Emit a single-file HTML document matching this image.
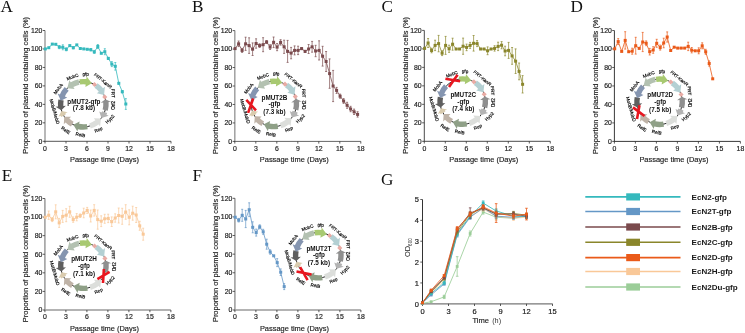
<!DOCTYPE html><html><head><meta charset="utf-8"><style>html,body{margin:0;padding:0;background:#fff;}svg{display:block;will-change:transform;}</style></head><body>
<svg width="745" height="333" viewBox="0 0 745 333">
<rect width="745" height="333" fill="#fff"/>
<text x="0.6" y="12.4" font-size="17.2" text-anchor="start" font-weight="normal" fill="#111" font-family='"Liberation Serif", serif' >A</text>
<line x1="45" y1="30.5" x2="45" y2="141.3" stroke="#9a9a9a" stroke-width="1.4"/>
<line x1="44.4" y1="141.3" x2="171" y2="141.3" stroke="#555" stroke-width="1.0"/>
<line x1="42.8" y1="141.3" x2="45" y2="141.3" stroke="#333" stroke-width="0.8"/>
<text x="42.4" y="143.7" font-size="6.9" text-anchor="end" font-weight="normal" fill="#222" font-family='"Liberation Sans", sans-serif'  stroke="#222" stroke-width="0.18">0</text>
<line x1="42.8" y1="122.83" x2="45" y2="122.83" stroke="#333" stroke-width="0.8"/>
<text x="42.4" y="125.23" font-size="6.9" text-anchor="end" font-weight="normal" fill="#222" font-family='"Liberation Sans", sans-serif'  stroke="#222" stroke-width="0.18">20</text>
<line x1="42.8" y1="104.37" x2="45" y2="104.37" stroke="#333" stroke-width="0.8"/>
<text x="42.4" y="106.77" font-size="6.9" text-anchor="end" font-weight="normal" fill="#222" font-family='"Liberation Sans", sans-serif'  stroke="#222" stroke-width="0.18">40</text>
<line x1="42.8" y1="85.9" x2="45" y2="85.9" stroke="#333" stroke-width="0.8"/>
<text x="42.4" y="88.3" font-size="6.9" text-anchor="end" font-weight="normal" fill="#222" font-family='"Liberation Sans", sans-serif'  stroke="#222" stroke-width="0.18">60</text>
<line x1="42.8" y1="67.43" x2="45" y2="67.43" stroke="#333" stroke-width="0.8"/>
<text x="42.4" y="69.83" font-size="6.9" text-anchor="end" font-weight="normal" fill="#222" font-family='"Liberation Sans", sans-serif'  stroke="#222" stroke-width="0.18">80</text>
<line x1="42.8" y1="48.97" x2="45" y2="48.97" stroke="#333" stroke-width="0.8"/>
<text x="42.4" y="51.37" font-size="6.9" text-anchor="end" font-weight="normal" fill="#222" font-family='"Liberation Sans", sans-serif'  stroke="#222" stroke-width="0.18">100</text>
<line x1="42.8" y1="30.5" x2="45" y2="30.5" stroke="#333" stroke-width="0.8"/>
<text x="42.4" y="32.9" font-size="6.9" text-anchor="end" font-weight="normal" fill="#222" font-family='"Liberation Sans", sans-serif'  stroke="#222" stroke-width="0.18">120</text>
<line x1="45" y1="141.3" x2="45" y2="143.5" stroke="#333" stroke-width="0.8"/>
<text x="45" y="150.7" font-size="6.9" text-anchor="middle" font-weight="normal" fill="#222" font-family='"Liberation Sans", sans-serif'  stroke="#222" stroke-width="0.18">0</text>
<line x1="66" y1="141.3" x2="66" y2="143.5" stroke="#333" stroke-width="0.8"/>
<text x="66" y="150.7" font-size="6.9" text-anchor="middle" font-weight="normal" fill="#222" font-family='"Liberation Sans", sans-serif'  stroke="#222" stroke-width="0.18">3</text>
<line x1="87" y1="141.3" x2="87" y2="143.5" stroke="#333" stroke-width="0.8"/>
<text x="87" y="150.7" font-size="6.9" text-anchor="middle" font-weight="normal" fill="#222" font-family='"Liberation Sans", sans-serif'  stroke="#222" stroke-width="0.18">6</text>
<line x1="108" y1="141.3" x2="108" y2="143.5" stroke="#333" stroke-width="0.8"/>
<text x="108" y="150.7" font-size="6.9" text-anchor="middle" font-weight="normal" fill="#222" font-family='"Liberation Sans", sans-serif'  stroke="#222" stroke-width="0.18">9</text>
<line x1="129" y1="141.3" x2="129" y2="143.5" stroke="#333" stroke-width="0.8"/>
<text x="129" y="150.7" font-size="6.9" text-anchor="middle" font-weight="normal" fill="#222" font-family='"Liberation Sans", sans-serif'  stroke="#222" stroke-width="0.18">12</text>
<line x1="150" y1="141.3" x2="150" y2="143.5" stroke="#333" stroke-width="0.8"/>
<text x="150" y="150.7" font-size="6.9" text-anchor="middle" font-weight="normal" fill="#222" font-family='"Liberation Sans", sans-serif'  stroke="#222" stroke-width="0.18">15</text>
<line x1="171" y1="141.3" x2="171" y2="143.5" stroke="#333" stroke-width="0.8"/>
<text x="171" y="150.7" font-size="6.9" text-anchor="middle" font-weight="normal" fill="#222" font-family='"Liberation Sans", sans-serif'  stroke="#222" stroke-width="0.18">18</text>
<text x="104.5" y="162.1" font-size="7.45" text-anchor="middle" font-weight="normal" fill="#1a1a1a" font-family='"Liberation Sans", sans-serif'  stroke="#1a1a1a" stroke-width="0.15">Passage time (Days)</text>
<text x="28.3" y="85.4" font-size="7.45" text-anchor="middle" fill="#1a1a1a" stroke="#1a1a1a" stroke-width="0.15" font-family='"Liberation Sans", sans-serif' transform="rotate(-90 28.3 85.4)">Proportion of plasmid containing cells (%)</text>
<g>
<circle cx="83.3" cy="104.3" r="22.7" fill="none" stroke="#111" stroke-width="0.9"/>
<path d="M78.45 79.37 A25.4 25.4 0 0 0 70.66 82.27 L69.41 80.1 L67.25 88.25 L74.59 89.12 L73.34 86.95 A20 20 0 0 1 79.48 84.67 Z" fill="#b3c1b1"/>
<path d="M79.33 79.21 A25.4 25.4 0 0 1 86.33 79.08 L86.63 76.6 L91.8 83.25 L85.39 86.93 L85.69 84.44 A20 20 0 0 0 80.17 84.55 Z" fill="#a8c971"/>
<path d="M97.5 83.24 A25.4 25.4 0 0 1 103 88.27 L104.94 86.69 L104.04 95.07 L96.87 93.25 L98.81 91.67 A20 20 0 0 0 94.48 87.72 Z" fill="#b4d0d3"/>
<path d="M107.83 110.87 A25.4 25.4 0 0 0 108.61 102.12 L111.1 101.91 L105.42 99.19 L100.74 102.8 L103.23 102.58 A20 20 0 0 1 102.62 109.48 Z" fill="#8f8f8f"/>
<path d="M107.17 112.99 A25.4 25.4 0 0 1 106.44 114.78 L108.71 115.82 L101.43 117.96 L99.24 111.52 L101.52 112.56 A20 20 0 0 0 102.09 111.14 Z" fill="#b3b3b3"/>
<path d="M90.73 128.59 A25.4 25.4 0 0 0 98.63 124.55 L100.14 126.55 L100.94 118.59 L93.86 118.25 L95.37 120.25 A20 20 0 0 1 89.15 123.43 Z" fill="#dcdedb"/>
<path d="M87.71 129.31 A25.4 25.4 0 0 1 77.97 129.13 L77.44 131.58 L73.35 124.7 L79.63 121.41 L79.1 123.85 A20 20 0 0 0 86.77 124 Z" fill="#8fa087"/>
<path d="M70.99 126.52 A25.4 25.4 0 0 1 65.53 122.45 L63.79 124.24 L64.26 116.66 L71.06 116.81 L69.31 118.59 A20 20 0 0 0 73.6 121.79 Z" fill="#bfb3a7"/>
<path d="M61.3 117 A25.4 25.4 0 0 1 60.62 115.73 L58.39 116.86 L61.59 110.94 L67.67 112.18 L65.44 113.3 A20 20 0 0 0 65.98 114.3 Z" fill="#d9cbae"/>
<path d="M58.37 99.45 A25.4 25.4 0 0 0 57.99 106.47 L55.5 106.68 L61.37 110.18 L65.86 105.8 L63.37 106.01 A20 20 0 0 1 63.67 100.48 Z" fill="#5f5f5f"/>
<path d="M64.72 86.98 A25.4 25.4 0 0 0 59.9 94.42 L57.6 93.45 L60.88 100.75 L67.18 97.5 L64.87 96.52 A20 20 0 0 1 68.67 90.66 Z" fill="#8595b0"/>
<rect x="92.68" y="82.74" width="3.6" height="3.6" fill="#e9aba4" transform="rotate(45 94.48 84.54)"/>
<rect x="102.99" y="95.18" width="3.6" height="3.6" fill="#e9aba4" transform="rotate(45 104.79 96.98)"/>
<text x="58.12" y="88.93" font-size="4.6" text-anchor="middle" fill="#000" stroke="#000" stroke-width="0.15" font-family='"Liberation Sans", sans-serif' transform="rotate(-52 58.12 88.93)" dy="1.6">MobA</text>
<text x="72.49" y="76.85" font-size="4.6" text-anchor="middle" fill="#000" stroke="#000" stroke-width="0.15" font-family='"Liberation Sans", sans-serif' transform="rotate(-20 72.49 76.85)" dy="1.6">MobC</text>
<text x="85.69" y="73.99" font-size="4.6" text-anchor="middle" fill="#000" stroke="#000" stroke-width="0.15" font-family='"Liberation Sans", sans-serif' transform="rotate(3 85.69 73.99)" dy="1.6">gfp</text>
<text x="103.03" y="80.78" font-size="4.6" text-anchor="middle" fill="#000" stroke="#000" stroke-width="0.15" font-family='"Liberation Sans", sans-serif' transform="rotate(39 103.03 80.78)" dy="1.6">FRT-KanR</text>
<text x="113.18" y="93.42" font-size="4.6" text-anchor="middle" fill="#000" stroke="#000" stroke-width="0.15" font-family='"Liberation Sans", sans-serif' transform="rotate(88 113.18 93.42)" dy="1.6">FRT</text>
<text x="113.88" y="105.37" font-size="4.6" text-anchor="middle" fill="#000" stroke="#000" stroke-width="0.15" font-family='"Liberation Sans", sans-serif' transform="rotate(-90 113.88 105.37)" dy="1.6">Orf2</text>
<text x="109.98" y="119.09" font-size="4.6" text-anchor="middle" fill="#000" stroke="#000" stroke-width="0.15" font-family='"Liberation Sans", sans-serif' transform="rotate(-45 109.98 119.09)" dy="1.6">Hyp2</text>
<text x="98.49" y="129.59" font-size="4.6" text-anchor="middle" fill="#000" stroke="#000" stroke-width="0.15" font-family='"Liberation Sans", sans-serif' transform="rotate(-22 98.49 129.59)" dy="1.6">Rep</text>
<text x="80.37" y="134.76" font-size="4.6" text-anchor="middle" fill="#000" stroke="#000" stroke-width="0.15" font-family='"Liberation Sans", sans-serif' transform="rotate(12 80.37 134.76)" dy="1.6">RelB</text>
<text x="65.74" y="130.33" font-size="4.6" text-anchor="middle" fill="#000" stroke="#000" stroke-width="0.15" font-family='"Liberation Sans", sans-serif' transform="rotate(34 65.74 130.33)" dy="1.6">RelE</text>
<text x="54.64" y="111.71" font-size="4.6" text-anchor="middle" fill="#000" stroke="#000" stroke-width="0.15" font-family='"Liberation Sans", sans-serif' transform="rotate(74 54.64 111.71)" dy="1.6">MobB/MobD</text>
<text x="83.9" y="103.7" font-size="6.35" text-anchor="middle" font-weight="bold" fill="#111" font-family='"Liberation Sans", sans-serif' >pMUT2-gfp</text>
<text x="83.9" y="109.7" font-size="6.35" text-anchor="middle" font-weight="bold" fill="#111" font-family='"Liberation Sans", sans-serif' >(7.8 kb)</text>
</g>
<polyline points="45.3,48.9 48.8,47.7 52.3,44.1 55.8,44.3 59.3,47.1 62.8,47.3 66.3,49.3 69.8,45.6 73.3,47.7 76.8,44.9 80.3,48.5 83.8,48.9 87.3,49.3 90.8,49.7 94.3,51.9 97.8,46.5 101.3,53.3 104.8,51.7 108.3,58.4 111.8,64.1 115.3,66.3 118.8,83.3 122.3,91.7 125.8,104" fill="none" stroke="#35b9bd" stroke-width="0.8"/>
<rect x="43.8" y="47.4" width="3" height="3" fill="#35b9bd"/>
<rect x="47.3" y="46.2" width="3" height="3" fill="#35b9bd"/>
<rect x="50.8" y="42.6" width="3" height="3" fill="#35b9bd"/>
<rect x="54.3" y="42.8" width="3" height="3" fill="#35b9bd"/>
<path d="M59.3 45.5 V48.7 M58.3 45.5 H60.3 M58.3 48.7 H60.3" stroke="#35b9bd" stroke-width="0.7" fill="none"/>
<rect x="57.8" y="45.6" width="3" height="3" fill="#35b9bd"/>
<path d="M62.8 44.8 V49.8 M61.8 44.8 H63.8 M61.8 49.8 H63.8" stroke="#35b9bd" stroke-width="0.7" fill="none"/>
<rect x="61.3" y="45.8" width="3" height="3" fill="#35b9bd"/>
<path d="M66.3 47.8 V50.8 M65.3 47.8 H67.3 M65.3 50.8 H67.3" stroke="#35b9bd" stroke-width="0.7" fill="none"/>
<rect x="64.8" y="47.8" width="3" height="3" fill="#35b9bd"/>
<rect x="68.3" y="44.1" width="3" height="3" fill="#35b9bd"/>
<path d="M73.3 46.5 V48.9 M72.3 46.5 H74.3 M72.3 48.9 H74.3" stroke="#35b9bd" stroke-width="0.7" fill="none"/>
<rect x="71.8" y="46.2" width="3" height="3" fill="#35b9bd"/>
<rect x="75.3" y="43.4" width="3" height="3" fill="#35b9bd"/>
<rect x="78.8" y="47" width="3" height="3" fill="#35b9bd"/>
<rect x="82.3" y="47.4" width="3" height="3" fill="#35b9bd"/>
<rect x="85.8" y="47.8" width="3" height="3" fill="#35b9bd"/>
<path d="M90.8 48.5 V50.9 M89.8 48.5 H91.8 M89.8 50.9 H91.8" stroke="#35b9bd" stroke-width="0.7" fill="none"/>
<rect x="89.3" y="48.2" width="3" height="3" fill="#35b9bd"/>
<path d="M94.3 50.4 V53.4 M93.3 50.4 H95.3 M93.3 53.4 H95.3" stroke="#35b9bd" stroke-width="0.7" fill="none"/>
<rect x="92.8" y="50.4" width="3" height="3" fill="#35b9bd"/>
<path d="M97.8 44.5 V48.5 M96.8 44.5 H98.8 M96.8 48.5 H98.8" stroke="#35b9bd" stroke-width="0.7" fill="none"/>
<rect x="96.3" y="45" width="3" height="3" fill="#35b9bd"/>
<rect x="99.8" y="51.8" width="3" height="3" fill="#35b9bd"/>
<path d="M104.8 48.7 V54.7 M103.8 48.7 H105.8 M103.8 54.7 H105.8" stroke="#35b9bd" stroke-width="0.7" fill="none"/>
<rect x="103.3" y="50.2" width="3" height="3" fill="#35b9bd"/>
<path d="M108.3 57.4 V59.4 M107.3 57.4 H109.3 M107.3 59.4 H109.3" stroke="#35b9bd" stroke-width="0.7" fill="none"/>
<rect x="106.8" y="56.9" width="3" height="3" fill="#35b9bd"/>
<path d="M111.8 61.6 V66.6 M110.8 61.6 H112.8 M110.8 66.6 H112.8" stroke="#35b9bd" stroke-width="0.7" fill="none"/>
<rect x="110.3" y="62.6" width="3" height="3" fill="#35b9bd"/>
<path d="M115.3 62.5 V70.1 M114.3 62.5 H116.3 M114.3 70.1 H116.3" stroke="#35b9bd" stroke-width="0.7" fill="none"/>
<rect x="113.8" y="64.8" width="3" height="3" fill="#35b9bd"/>
<path d="M118.8 82.5 V84.1 M117.8 82.5 H119.8 M117.8 84.1 H119.8" stroke="#35b9bd" stroke-width="0.7" fill="none"/>
<rect x="117.3" y="81.8" width="3" height="3" fill="#35b9bd"/>
<path d="M122.3 90.5 V92.9 M121.3 90.5 H123.3 M121.3 92.9 H123.3" stroke="#35b9bd" stroke-width="0.7" fill="none"/>
<rect x="120.8" y="90.2" width="3" height="3" fill="#35b9bd"/>
<path d="M125.8 98.6 V109.4 M124.8 98.6 H126.8 M124.8 109.4 H126.8" stroke="#35b9bd" stroke-width="0.7" fill="none"/>
<rect x="124.3" y="102.5" width="3" height="3" fill="#35b9bd"/>
<text x="192" y="12" font-size="17.2" text-anchor="start" font-weight="normal" fill="#111" font-family='"Liberation Serif", serif' >B</text>
<line x1="234.8" y1="30.6" x2="234.8" y2="141.4" stroke="#a0a0a0" stroke-width="1.5"/>
<line x1="234.2" y1="141.4" x2="360.8" y2="141.4" stroke="#666" stroke-width="1.0"/>
<line x1="232.6" y1="141.4" x2="234.8" y2="141.4" stroke="#333" stroke-width="0.8"/>
<text x="232.2" y="143.8" font-size="6.9" text-anchor="end" font-weight="normal" fill="#222" font-family='"Liberation Sans", sans-serif'  stroke="#222" stroke-width="0.18">0</text>
<line x1="232.6" y1="122.93" x2="234.8" y2="122.93" stroke="#333" stroke-width="0.8"/>
<text x="232.2" y="125.33" font-size="6.9" text-anchor="end" font-weight="normal" fill="#222" font-family='"Liberation Sans", sans-serif'  stroke="#222" stroke-width="0.18">20</text>
<line x1="232.6" y1="104.47" x2="234.8" y2="104.47" stroke="#333" stroke-width="0.8"/>
<text x="232.2" y="106.87" font-size="6.9" text-anchor="end" font-weight="normal" fill="#222" font-family='"Liberation Sans", sans-serif'  stroke="#222" stroke-width="0.18">40</text>
<line x1="232.6" y1="86" x2="234.8" y2="86" stroke="#333" stroke-width="0.8"/>
<text x="232.2" y="88.4" font-size="6.9" text-anchor="end" font-weight="normal" fill="#222" font-family='"Liberation Sans", sans-serif'  stroke="#222" stroke-width="0.18">60</text>
<line x1="232.6" y1="67.53" x2="234.8" y2="67.53" stroke="#333" stroke-width="0.8"/>
<text x="232.2" y="69.93" font-size="6.9" text-anchor="end" font-weight="normal" fill="#222" font-family='"Liberation Sans", sans-serif'  stroke="#222" stroke-width="0.18">80</text>
<line x1="232.6" y1="49.07" x2="234.8" y2="49.07" stroke="#333" stroke-width="0.8"/>
<text x="232.2" y="51.47" font-size="6.9" text-anchor="end" font-weight="normal" fill="#222" font-family='"Liberation Sans", sans-serif'  stroke="#222" stroke-width="0.18">100</text>
<line x1="232.6" y1="30.6" x2="234.8" y2="30.6" stroke="#333" stroke-width="0.8"/>
<text x="232.2" y="33" font-size="6.9" text-anchor="end" font-weight="normal" fill="#222" font-family='"Liberation Sans", sans-serif'  stroke="#222" stroke-width="0.18">120</text>
<line x1="234.8" y1="141.4" x2="234.8" y2="143.6" stroke="#333" stroke-width="0.8"/>
<text x="234.8" y="150.8" font-size="6.9" text-anchor="middle" font-weight="normal" fill="#222" font-family='"Liberation Sans", sans-serif'  stroke="#222" stroke-width="0.18">0</text>
<line x1="255.8" y1="141.4" x2="255.8" y2="143.6" stroke="#333" stroke-width="0.8"/>
<text x="255.8" y="150.8" font-size="6.9" text-anchor="middle" font-weight="normal" fill="#222" font-family='"Liberation Sans", sans-serif'  stroke="#222" stroke-width="0.18">3</text>
<line x1="276.8" y1="141.4" x2="276.8" y2="143.6" stroke="#333" stroke-width="0.8"/>
<text x="276.8" y="150.8" font-size="6.9" text-anchor="middle" font-weight="normal" fill="#222" font-family='"Liberation Sans", sans-serif'  stroke="#222" stroke-width="0.18">6</text>
<line x1="297.8" y1="141.4" x2="297.8" y2="143.6" stroke="#333" stroke-width="0.8"/>
<text x="297.8" y="150.8" font-size="6.9" text-anchor="middle" font-weight="normal" fill="#222" font-family='"Liberation Sans", sans-serif'  stroke="#222" stroke-width="0.18">9</text>
<line x1="318.8" y1="141.4" x2="318.8" y2="143.6" stroke="#333" stroke-width="0.8"/>
<text x="318.8" y="150.8" font-size="6.9" text-anchor="middle" font-weight="normal" fill="#222" font-family='"Liberation Sans", sans-serif'  stroke="#222" stroke-width="0.18">12</text>
<line x1="339.8" y1="141.4" x2="339.8" y2="143.6" stroke="#333" stroke-width="0.8"/>
<text x="339.8" y="150.8" font-size="6.9" text-anchor="middle" font-weight="normal" fill="#222" font-family='"Liberation Sans", sans-serif'  stroke="#222" stroke-width="0.18">15</text>
<line x1="360.8" y1="141.4" x2="360.8" y2="143.6" stroke="#333" stroke-width="0.8"/>
<text x="360.8" y="150.8" font-size="6.9" text-anchor="middle" font-weight="normal" fill="#222" font-family='"Liberation Sans", sans-serif'  stroke="#222" stroke-width="0.18">18</text>
<text x="294.3" y="162.2" font-size="7.45" text-anchor="middle" font-weight="normal" fill="#1a1a1a" font-family='"Liberation Sans", sans-serif'  stroke="#1a1a1a" stroke-width="0.15">Passage time (Days)</text>
<text x="218.1" y="85.5" font-size="7.45" text-anchor="middle" fill="#1a1a1a" stroke="#1a1a1a" stroke-width="0.15" font-family='"Liberation Sans", sans-serif' transform="rotate(-90 218.1 85.5)">Proportion of plasmid containing cells (%)</text>
<g>
<circle cx="273.8" cy="103.9" r="22.7" fill="none" stroke="#111" stroke-width="0.9"/>
<path d="M268.95 78.97 A25.4 25.4 0 0 0 261.16 81.87 L259.91 79.7 L257.75 87.85 L265.09 88.72 L263.84 86.55 A20 20 0 0 1 269.98 84.27 Z" fill="#b3c1b1"/>
<path d="M269.83 78.81 A25.4 25.4 0 0 1 276.83 78.68 L277.13 76.2 L282.3 82.85 L275.89 86.53 L276.19 84.04 A20 20 0 0 0 270.67 84.15 Z" fill="#a8c971"/>
<path d="M288 82.84 A25.4 25.4 0 0 1 293.5 87.87 L295.44 86.29 L294.54 94.67 L287.37 92.85 L289.31 91.27 A20 20 0 0 0 284.98 87.32 Z" fill="#b4d0d3"/>
<path d="M298.33 110.47 A25.4 25.4 0 0 0 299.11 101.72 L301.6 101.51 L295.92 98.79 L291.24 102.4 L293.73 102.18 A20 20 0 0 1 293.12 109.08 Z" fill="#8f8f8f"/>
<path d="M297.67 112.59 A25.4 25.4 0 0 1 296.94 114.38 L299.21 115.42 L291.93 117.56 L289.74 111.12 L292.02 112.16 A20 20 0 0 0 292.59 110.74 Z" fill="#b3b3b3"/>
<path d="M281.23 128.19 A25.4 25.4 0 0 0 289.13 124.15 L290.64 126.15 L291.44 118.19 L284.36 117.85 L285.87 119.85 A20 20 0 0 1 279.65 123.03 Z" fill="#dcdedb"/>
<path d="M278.21 128.91 A25.4 25.4 0 0 1 268.47 128.73 L267.94 131.18 L263.85 124.3 L270.13 121.01 L269.6 123.45 A20 20 0 0 0 277.27 123.6 Z" fill="#8fa087"/>
<path d="M261.49 126.12 A25.4 25.4 0 0 1 256.03 122.05 L254.29 123.84 L254.76 116.26 L261.56 116.41 L259.81 118.19 A20 20 0 0 0 264.1 121.39 Z" fill="#bfb3a7"/>
<path d="M251.8 116.6 A25.4 25.4 0 0 1 251.12 115.33 L248.89 116.46 L252.09 110.54 L258.17 111.78 L255.94 112.9 A20 20 0 0 0 256.48 113.9 Z" fill="#d9cbae"/>
<path d="M255.22 86.58 A25.4 25.4 0 0 0 250.4 94.02 L248.1 93.05 L251.38 100.35 L257.68 97.1 L255.37 96.12 A20 20 0 0 1 259.17 90.26 Z" fill="#8595b0"/>
<rect x="283.18" y="82.34" width="3.6" height="3.6" fill="#e9aba4" transform="rotate(45 284.98 84.14)"/>
<rect x="293.49" y="94.78" width="3.6" height="3.6" fill="#e9aba4" transform="rotate(45 295.29 96.58)"/>
<text x="248.62" y="88.53" font-size="4.6" text-anchor="middle" fill="#000" stroke="#000" stroke-width="0.15" font-family='"Liberation Sans", sans-serif' transform="rotate(-52 248.62 88.53)" dy="1.6">MobA</text>
<text x="262.99" y="76.45" font-size="4.6" text-anchor="middle" fill="#000" stroke="#000" stroke-width="0.15" font-family='"Liberation Sans", sans-serif' transform="rotate(-20 262.99 76.45)" dy="1.6">MobC</text>
<text x="276.19" y="73.59" font-size="4.6" text-anchor="middle" fill="#000" stroke="#000" stroke-width="0.15" font-family='"Liberation Sans", sans-serif' transform="rotate(3 276.19 73.59)" dy="1.6">gfp</text>
<text x="293.53" y="80.38" font-size="4.6" text-anchor="middle" fill="#000" stroke="#000" stroke-width="0.15" font-family='"Liberation Sans", sans-serif' transform="rotate(39 293.53 80.38)" dy="1.6">FRT-KanR</text>
<text x="303.68" y="93.02" font-size="4.6" text-anchor="middle" fill="#000" stroke="#000" stroke-width="0.15" font-family='"Liberation Sans", sans-serif' transform="rotate(88 303.68 93.02)" dy="1.6">FRT</text>
<text x="304.38" y="104.97" font-size="4.6" text-anchor="middle" fill="#000" stroke="#000" stroke-width="0.15" font-family='"Liberation Sans", sans-serif' transform="rotate(-90 304.38 104.97)" dy="1.6">Orf2</text>
<text x="300.48" y="118.69" font-size="4.6" text-anchor="middle" fill="#000" stroke="#000" stroke-width="0.15" font-family='"Liberation Sans", sans-serif' transform="rotate(-45 300.48 118.69)" dy="1.6">Hyp2</text>
<text x="288.99" y="129.19" font-size="4.6" text-anchor="middle" fill="#000" stroke="#000" stroke-width="0.15" font-family='"Liberation Sans", sans-serif' transform="rotate(-22 288.99 129.19)" dy="1.6">Rep</text>
<text x="270.87" y="134.36" font-size="4.6" text-anchor="middle" fill="#000" stroke="#000" stroke-width="0.15" font-family='"Liberation Sans", sans-serif' transform="rotate(12 270.87 134.36)" dy="1.6">RelB</text>
<text x="256.24" y="129.93" font-size="4.6" text-anchor="middle" fill="#000" stroke="#000" stroke-width="0.15" font-family='"Liberation Sans", sans-serif' transform="rotate(34 256.24 129.93)" dy="1.6">RelE</text>
<text x="245.14" y="111.31" font-size="4.6" text-anchor="middle" fill="#000" stroke="#000" stroke-width="0.15" font-family='"Liberation Sans", sans-serif' transform="rotate(74 245.14 111.31)" dy="1.6">MobB/MobD</text>
<text x="274.4" y="99.5" font-size="6.35" text-anchor="middle" font-weight="bold" fill="#111" font-family='"Liberation Sans", sans-serif' >pMUT2B</text>
<text x="274.4" y="106.1" font-size="6.35" text-anchor="middle" font-weight="bold" fill="#111" font-family='"Liberation Sans", sans-serif' >-gfp</text>
<text x="274.4" y="113.7" font-size="6.35" text-anchor="middle" font-weight="bold" fill="#111" font-family='"Liberation Sans", sans-serif' >(7.3 kb)</text>
<path d="M246.3 99.9 L256 110.3 M253.2 98.5 L248.1 112.9" stroke="#e8161f" stroke-width="2.6" stroke-linecap="butt" fill="none"/>
</g>
<polyline points="235.1,48.6 238.6,43.8 242.1,50.4 245.6,43.8 249.1,45.6 252.6,49.2 256.1,43.5 259.6,45.6 263.1,44.7 266.6,42 270.1,47.1 273.6,42.3 277.1,47.1 280.6,42.4 284.1,46.8 287.6,51.4 291.1,53.1 294.6,50.4 298.1,50.4 301.6,48.6 305.1,51.4 308.6,49 312.1,46.8 315.6,51 319.1,50.4 322.6,56.2 326.1,61.5 329.6,73.6 333.1,86 336.6,90.4 340.1,96.2 343.6,101 347.1,105.3 350.6,109 354.1,111.8 357.6,114.4" fill="none" stroke="#7a4a4d" stroke-width="0.8"/>
<rect x="233.6" y="47.1" width="3" height="3" fill="#7a4a4d"/>
<path d="M238.6 41 V46.6 M237.6 41 H239.6 M237.6 46.6 H239.6" stroke="#7a4a4d" stroke-width="0.7" fill="none"/>
<rect x="237.1" y="42.3" width="3" height="3" fill="#7a4a4d"/>
<path d="M242.1 48.4 V52.4 M241.1 48.4 H243.1 M241.1 52.4 H243.1" stroke="#7a4a4d" stroke-width="0.7" fill="none"/>
<rect x="240.6" y="48.9" width="3" height="3" fill="#7a4a4d"/>
<path d="M245.6 37.2 V50.4 M244.6 37.2 H246.6 M244.6 50.4 H246.6" stroke="#7a4a4d" stroke-width="0.7" fill="none"/>
<rect x="244.1" y="42.3" width="3" height="3" fill="#7a4a4d"/>
<path d="M249.1 37.8 V53.4 M248.1 37.8 H250.1 M248.1 53.4 H250.1" stroke="#7a4a4d" stroke-width="0.7" fill="none"/>
<rect x="247.6" y="44.1" width="3" height="3" fill="#7a4a4d"/>
<path d="M252.6 42.9 V55.5 M251.6 42.9 H253.6 M251.6 55.5 H253.6" stroke="#7a4a4d" stroke-width="0.7" fill="none"/>
<rect x="251.1" y="47.7" width="3" height="3" fill="#7a4a4d"/>
<path d="M256.1 38.8 V48.2 M255.1 38.8 H257.1 M255.1 48.2 H257.1" stroke="#7a4a4d" stroke-width="0.7" fill="none"/>
<rect x="254.6" y="42" width="3" height="3" fill="#7a4a4d"/>
<path d="M259.6 43.8 V47.4 M258.6 43.8 H260.6 M258.6 47.4 H260.6" stroke="#7a4a4d" stroke-width="0.7" fill="none"/>
<rect x="258.1" y="44.1" width="3" height="3" fill="#7a4a4d"/>
<path d="M263.1 37.7 V51.7 M262.1 37.7 H264.1 M262.1 51.7 H264.1" stroke="#7a4a4d" stroke-width="0.7" fill="none"/>
<rect x="261.6" y="43.2" width="3" height="3" fill="#7a4a4d"/>
<path d="M266.6 40.5 V43.5 M265.6 40.5 H267.6 M265.6 43.5 H267.6" stroke="#7a4a4d" stroke-width="0.7" fill="none"/>
<rect x="265.1" y="40.5" width="3" height="3" fill="#7a4a4d"/>
<path d="M270.1 44.7 V49.5 M269.1 44.7 H271.1 M269.1 49.5 H271.1" stroke="#7a4a4d" stroke-width="0.7" fill="none"/>
<rect x="268.6" y="45.6" width="3" height="3" fill="#7a4a4d"/>
<path d="M273.6 37 V47.6 M272.6 37 H274.6 M272.6 47.6 H274.6" stroke="#7a4a4d" stroke-width="0.7" fill="none"/>
<rect x="272.1" y="40.8" width="3" height="3" fill="#7a4a4d"/>
<path d="M277.1 43.5 V50.7 M276.1 43.5 H278.1 M276.1 50.7 H278.1" stroke="#7a4a4d" stroke-width="0.7" fill="none"/>
<rect x="275.6" y="45.6" width="3" height="3" fill="#7a4a4d"/>
<path d="M280.6 39.7 V45.1 M279.6 39.7 H281.6 M279.6 45.1 H281.6" stroke="#7a4a4d" stroke-width="0.7" fill="none"/>
<rect x="279.1" y="40.9" width="3" height="3" fill="#7a4a4d"/>
<path d="M284.1 40.2 V53.4 M283.1 40.2 H285.1 M283.1 53.4 H285.1" stroke="#7a4a4d" stroke-width="0.7" fill="none"/>
<rect x="282.6" y="45.3" width="3" height="3" fill="#7a4a4d"/>
<path d="M287.6 40.4 V62.4 M286.6 40.4 H288.6 M286.6 62.4 H288.6" stroke="#7a4a4d" stroke-width="0.7" fill="none"/>
<rect x="286.1" y="49.9" width="3" height="3" fill="#7a4a4d"/>
<path d="M291.1 47.4 V58.8 M290.1 47.4 H292.1 M290.1 58.8 H292.1" stroke="#7a4a4d" stroke-width="0.7" fill="none"/>
<rect x="289.6" y="51.6" width="3" height="3" fill="#7a4a4d"/>
<path d="M294.6 45.9 V54.9 M293.6 45.9 H295.6 M293.6 54.9 H295.6" stroke="#7a4a4d" stroke-width="0.7" fill="none"/>
<rect x="293.1" y="48.9" width="3" height="3" fill="#7a4a4d"/>
<path d="M298.1 46.2 V54.6 M297.1 46.2 H299.1 M297.1 54.6 H299.1" stroke="#7a4a4d" stroke-width="0.7" fill="none"/>
<rect x="296.6" y="48.9" width="3" height="3" fill="#7a4a4d"/>
<path d="M301.6 47.6 V49.6 M300.6 47.6 H302.6 M300.6 49.6 H302.6" stroke="#7a4a4d" stroke-width="0.7" fill="none"/>
<rect x="300.1" y="47.1" width="3" height="3" fill="#7a4a4d"/>
<path d="M305.1 50.4 V52.4 M304.1 50.4 H306.1 M304.1 52.4 H306.1" stroke="#7a4a4d" stroke-width="0.7" fill="none"/>
<rect x="303.6" y="49.9" width="3" height="3" fill="#7a4a4d"/>
<path d="M308.6 44.5 V53.5 M307.6 44.5 H309.6 M307.6 53.5 H309.6" stroke="#7a4a4d" stroke-width="0.7" fill="none"/>
<rect x="307.1" y="47.5" width="3" height="3" fill="#7a4a4d"/>
<path d="M312.1 41.4 V52.2 M311.1 41.4 H313.1 M311.1 52.2 H313.1" stroke="#7a4a4d" stroke-width="0.7" fill="none"/>
<rect x="310.6" y="45.3" width="3" height="3" fill="#7a4a4d"/>
<path d="M315.6 45.3 V56.7 M314.6 45.3 H316.6 M314.6 56.7 H316.6" stroke="#7a4a4d" stroke-width="0.7" fill="none"/>
<rect x="314.1" y="49.5" width="3" height="3" fill="#7a4a4d"/>
<path d="M319.1 40.8 V60 M318.1 40.8 H320.1 M318.1 60 H320.1" stroke="#7a4a4d" stroke-width="0.7" fill="none"/>
<rect x="317.6" y="48.9" width="3" height="3" fill="#7a4a4d"/>
<path d="M322.6 46.3 V66.1 M321.6 46.3 H323.6 M321.6 66.1 H323.6" stroke="#7a4a4d" stroke-width="0.7" fill="none"/>
<rect x="321.1" y="54.7" width="3" height="3" fill="#7a4a4d"/>
<path d="M326.1 51.5 V71.5 M325.1 51.5 H327.1 M325.1 71.5 H327.1" stroke="#7a4a4d" stroke-width="0.7" fill="none"/>
<rect x="324.6" y="60" width="3" height="3" fill="#7a4a4d"/>
<path d="M329.6 58.9 V88.3 M328.6 58.9 H330.6 M328.6 88.3 H330.6" stroke="#7a4a4d" stroke-width="0.7" fill="none"/>
<rect x="328.1" y="72.1" width="3" height="3" fill="#7a4a4d"/>
<path d="M333.1 70.4 V101.6 M332.1 70.4 H334.1 M332.1 101.6 H334.1" stroke="#7a4a4d" stroke-width="0.7" fill="none"/>
<rect x="331.6" y="84.5" width="3" height="3" fill="#7a4a4d"/>
<path d="M336.6 87.4 V93.4 M335.6 87.4 H337.6 M335.6 93.4 H337.6" stroke="#7a4a4d" stroke-width="0.7" fill="none"/>
<rect x="335.1" y="88.9" width="3" height="3" fill="#7a4a4d"/>
<path d="M340.1 94.1 V98.3 M339.1 94.1 H341.1 M339.1 98.3 H341.1" stroke="#7a4a4d" stroke-width="0.7" fill="none"/>
<rect x="338.6" y="94.7" width="3" height="3" fill="#7a4a4d"/>
<path d="M343.6 98.6 V103.4 M342.6 98.6 H344.6 M342.6 103.4 H344.6" stroke="#7a4a4d" stroke-width="0.7" fill="none"/>
<rect x="342.1" y="99.5" width="3" height="3" fill="#7a4a4d"/>
<path d="M347.1 102.3 V108.3 M346.1 102.3 H348.1 M346.1 108.3 H348.1" stroke="#7a4a4d" stroke-width="0.7" fill="none"/>
<rect x="345.6" y="103.8" width="3" height="3" fill="#7a4a4d"/>
<path d="M350.6 106.3 V111.7 M349.6 106.3 H351.6 M349.6 111.7 H351.6" stroke="#7a4a4d" stroke-width="0.7" fill="none"/>
<rect x="349.1" y="107.5" width="3" height="3" fill="#7a4a4d"/>
<path d="M354.1 109.1 V114.5 M353.1 109.1 H355.1 M353.1 114.5 H355.1" stroke="#7a4a4d" stroke-width="0.7" fill="none"/>
<rect x="352.6" y="110.3" width="3" height="3" fill="#7a4a4d"/>
<path d="M357.6 111.7 V117.1 M356.6 111.7 H358.6 M356.6 117.1 H358.6" stroke="#7a4a4d" stroke-width="0.7" fill="none"/>
<rect x="356.1" y="112.9" width="3" height="3" fill="#7a4a4d"/>
<text x="381.6" y="12.2" font-size="17.2" text-anchor="start" font-weight="normal" fill="#111" font-family='"Liberation Serif", serif' >C</text>
<line x1="424.3" y1="30.4" x2="424.3" y2="141.3" stroke="#4a4a4a" stroke-width="1.0"/>
<line x1="423.7" y1="141.3" x2="550.3" y2="141.3" stroke="#4a4a4a" stroke-width="1.0"/>
<line x1="422.1" y1="141.3" x2="424.3" y2="141.3" stroke="#333" stroke-width="0.8"/>
<text x="421.7" y="143.7" font-size="6.9" text-anchor="end" font-weight="normal" fill="#222" font-family='"Liberation Sans", sans-serif'  stroke="#222" stroke-width="0.18">0</text>
<line x1="422.1" y1="122.82" x2="424.3" y2="122.82" stroke="#333" stroke-width="0.8"/>
<text x="421.7" y="125.22" font-size="6.9" text-anchor="end" font-weight="normal" fill="#222" font-family='"Liberation Sans", sans-serif'  stroke="#222" stroke-width="0.18">20</text>
<line x1="422.1" y1="104.33" x2="424.3" y2="104.33" stroke="#333" stroke-width="0.8"/>
<text x="421.7" y="106.73" font-size="6.9" text-anchor="end" font-weight="normal" fill="#222" font-family='"Liberation Sans", sans-serif'  stroke="#222" stroke-width="0.18">40</text>
<line x1="422.1" y1="85.85" x2="424.3" y2="85.85" stroke="#333" stroke-width="0.8"/>
<text x="421.7" y="88.25" font-size="6.9" text-anchor="end" font-weight="normal" fill="#222" font-family='"Liberation Sans", sans-serif'  stroke="#222" stroke-width="0.18">60</text>
<line x1="422.1" y1="67.37" x2="424.3" y2="67.37" stroke="#333" stroke-width="0.8"/>
<text x="421.7" y="69.77" font-size="6.9" text-anchor="end" font-weight="normal" fill="#222" font-family='"Liberation Sans", sans-serif'  stroke="#222" stroke-width="0.18">80</text>
<line x1="422.1" y1="48.88" x2="424.3" y2="48.88" stroke="#333" stroke-width="0.8"/>
<text x="421.7" y="51.28" font-size="6.9" text-anchor="end" font-weight="normal" fill="#222" font-family='"Liberation Sans", sans-serif'  stroke="#222" stroke-width="0.18">100</text>
<line x1="422.1" y1="30.4" x2="424.3" y2="30.4" stroke="#333" stroke-width="0.8"/>
<text x="421.7" y="32.8" font-size="6.9" text-anchor="end" font-weight="normal" fill="#222" font-family='"Liberation Sans", sans-serif'  stroke="#222" stroke-width="0.18">120</text>
<line x1="424.3" y1="141.3" x2="424.3" y2="143.5" stroke="#333" stroke-width="0.8"/>
<text x="424.3" y="150.7" font-size="6.9" text-anchor="middle" font-weight="normal" fill="#222" font-family='"Liberation Sans", sans-serif'  stroke="#222" stroke-width="0.18">0</text>
<line x1="445.3" y1="141.3" x2="445.3" y2="143.5" stroke="#333" stroke-width="0.8"/>
<text x="445.3" y="150.7" font-size="6.9" text-anchor="middle" font-weight="normal" fill="#222" font-family='"Liberation Sans", sans-serif'  stroke="#222" stroke-width="0.18">3</text>
<line x1="466.3" y1="141.3" x2="466.3" y2="143.5" stroke="#333" stroke-width="0.8"/>
<text x="466.3" y="150.7" font-size="6.9" text-anchor="middle" font-weight="normal" fill="#222" font-family='"Liberation Sans", sans-serif'  stroke="#222" stroke-width="0.18">6</text>
<line x1="487.3" y1="141.3" x2="487.3" y2="143.5" stroke="#333" stroke-width="0.8"/>
<text x="487.3" y="150.7" font-size="6.9" text-anchor="middle" font-weight="normal" fill="#222" font-family='"Liberation Sans", sans-serif'  stroke="#222" stroke-width="0.18">9</text>
<line x1="508.3" y1="141.3" x2="508.3" y2="143.5" stroke="#333" stroke-width="0.8"/>
<text x="508.3" y="150.7" font-size="6.9" text-anchor="middle" font-weight="normal" fill="#222" font-family='"Liberation Sans", sans-serif'  stroke="#222" stroke-width="0.18">12</text>
<line x1="529.3" y1="141.3" x2="529.3" y2="143.5" stroke="#333" stroke-width="0.8"/>
<text x="529.3" y="150.7" font-size="6.9" text-anchor="middle" font-weight="normal" fill="#222" font-family='"Liberation Sans", sans-serif'  stroke="#222" stroke-width="0.18">15</text>
<line x1="550.3" y1="141.3" x2="550.3" y2="143.5" stroke="#333" stroke-width="0.8"/>
<text x="550.3" y="150.7" font-size="6.9" text-anchor="middle" font-weight="normal" fill="#222" font-family='"Liberation Sans", sans-serif'  stroke="#222" stroke-width="0.18">18</text>
<text x="483.8" y="162.1" font-size="7.45" text-anchor="middle" font-weight="normal" fill="#1a1a1a" font-family='"Liberation Sans", sans-serif'  stroke="#1a1a1a" stroke-width="0.15">Passage time (Days)</text>
<text x="407.6" y="85.35" font-size="7.45" text-anchor="middle" fill="#1a1a1a" stroke="#1a1a1a" stroke-width="0.15" font-family='"Liberation Sans", sans-serif' transform="rotate(-90 407.6 85.35)">Proportion of plasmid containing cells (%)</text>
<g>
<circle cx="462.7" cy="101.6" r="22.7" fill="none" stroke="#111" stroke-width="0.9"/>
<path d="M458.73 76.51 A25.4 25.4 0 0 1 465.73 76.38 L466.03 73.9 L471.2 80.55 L464.79 84.23 L465.09 81.74 A20 20 0 0 0 459.57 81.85 Z" fill="#a8c971"/>
<path d="M476.9 80.54 A25.4 25.4 0 0 1 482.4 85.57 L484.34 83.99 L483.44 92.37 L476.27 90.55 L478.21 88.97 A20 20 0 0 0 473.88 85.02 Z" fill="#b4d0d3"/>
<path d="M487.23 108.17 A25.4 25.4 0 0 0 488.01 99.42 L490.5 99.21 L484.82 96.49 L480.14 100.1 L482.63 99.88 A20 20 0 0 1 482.02 106.78 Z" fill="#8f8f8f"/>
<path d="M486.57 110.29 A25.4 25.4 0 0 1 485.84 112.08 L488.11 113.12 L480.83 115.26 L478.64 108.82 L480.92 109.86 A20 20 0 0 0 481.49 108.44 Z" fill="#b3b3b3"/>
<path d="M470.13 125.89 A25.4 25.4 0 0 0 478.03 121.85 L479.54 123.85 L480.34 115.89 L473.26 115.55 L474.77 117.55 A20 20 0 0 1 468.55 120.73 Z" fill="#dcdedb"/>
<path d="M467.11 126.61 A25.4 25.4 0 0 1 457.37 126.43 L456.84 128.88 L452.75 122 L459.03 118.71 L458.5 121.15 A20 20 0 0 0 466.17 121.3 Z" fill="#8fa087"/>
<path d="M450.39 123.82 A25.4 25.4 0 0 1 444.93 119.75 L443.19 121.54 L443.66 113.96 L450.46 114.11 L448.71 115.89 A20 20 0 0 0 453 119.09 Z" fill="#bfb3a7"/>
<path d="M440.7 114.3 A25.4 25.4 0 0 1 440.02 113.03 L437.79 114.16 L440.99 108.24 L447.07 109.48 L444.84 110.6 A20 20 0 0 0 445.38 111.6 Z" fill="#d9cbae"/>
<path d="M437.77 96.75 A25.4 25.4 0 0 0 437.39 103.77 L434.9 103.98 L440.77 107.48 L445.26 103.1 L442.77 103.31 A20 20 0 0 1 443.07 97.78 Z" fill="#5f5f5f"/>
<path d="M444.12 84.28 A25.4 25.4 0 0 0 439.3 91.72 L437 90.75 L440.28 98.05 L446.58 94.8 L444.27 93.82 A20 20 0 0 1 448.07 87.96 Z" fill="#8595b0"/>
<rect x="472.08" y="80.04" width="3.6" height="3.6" fill="#e9aba4" transform="rotate(45 473.88 81.84)"/>
<rect x="482.39" y="92.48" width="3.6" height="3.6" fill="#e9aba4" transform="rotate(45 484.19 94.28)"/>
<text x="437.52" y="86.23" font-size="4.6" text-anchor="middle" fill="#000" stroke="#000" stroke-width="0.15" font-family='"Liberation Sans", sans-serif' transform="rotate(-52 437.52 86.23)" dy="1.6">MobA</text>
<text x="451.89" y="74.15" font-size="4.6" text-anchor="middle" fill="#000" stroke="#000" stroke-width="0.15" font-family='"Liberation Sans", sans-serif' transform="rotate(-20 451.89 74.15)" dy="1.6">MobC</text>
<text x="465.09" y="71.29" font-size="4.6" text-anchor="middle" fill="#000" stroke="#000" stroke-width="0.15" font-family='"Liberation Sans", sans-serif' transform="rotate(3 465.09 71.29)" dy="1.6">gfp</text>
<text x="482.43" y="78.08" font-size="4.6" text-anchor="middle" fill="#000" stroke="#000" stroke-width="0.15" font-family='"Liberation Sans", sans-serif' transform="rotate(39 482.43 78.08)" dy="1.6">FRT-KanR</text>
<text x="492.58" y="90.72" font-size="4.6" text-anchor="middle" fill="#000" stroke="#000" stroke-width="0.15" font-family='"Liberation Sans", sans-serif' transform="rotate(88 492.58 90.72)" dy="1.6">FRT</text>
<text x="493.28" y="102.67" font-size="4.6" text-anchor="middle" fill="#000" stroke="#000" stroke-width="0.15" font-family='"Liberation Sans", sans-serif' transform="rotate(-90 493.28 102.67)" dy="1.6">Orf2</text>
<text x="489.38" y="116.39" font-size="4.6" text-anchor="middle" fill="#000" stroke="#000" stroke-width="0.15" font-family='"Liberation Sans", sans-serif' transform="rotate(-45 489.38 116.39)" dy="1.6">Hyp2</text>
<text x="477.89" y="126.89" font-size="4.6" text-anchor="middle" fill="#000" stroke="#000" stroke-width="0.15" font-family='"Liberation Sans", sans-serif' transform="rotate(-22 477.89 126.89)" dy="1.6">Rep</text>
<text x="459.77" y="132.06" font-size="4.6" text-anchor="middle" fill="#000" stroke="#000" stroke-width="0.15" font-family='"Liberation Sans", sans-serif' transform="rotate(12 459.77 132.06)" dy="1.6">RelB</text>
<text x="445.14" y="127.63" font-size="4.6" text-anchor="middle" fill="#000" stroke="#000" stroke-width="0.15" font-family='"Liberation Sans", sans-serif' transform="rotate(34 445.14 127.63)" dy="1.6">RelE</text>
<text x="434.04" y="109.01" font-size="4.6" text-anchor="middle" fill="#000" stroke="#000" stroke-width="0.15" font-family='"Liberation Sans", sans-serif' transform="rotate(74 434.04 109.01)" dy="1.6">MobB/MobD</text>
<text x="463.3" y="97.2" font-size="6.35" text-anchor="middle" font-weight="bold" fill="#111" font-family='"Liberation Sans", sans-serif' >pMUT2C</text>
<text x="463.3" y="103.8" font-size="6.35" text-anchor="middle" font-weight="bold" fill="#111" font-family='"Liberation Sans", sans-serif' >-gfp</text>
<text x="463.3" y="111.4" font-size="6.35" text-anchor="middle" font-weight="bold" fill="#111" font-family='"Liberation Sans", sans-serif' >(7.4 kb)</text>
<path d="M445.4 78.7 L460.1 81.2 M457.6 74.7 L449 86.9" stroke="#e8161f" stroke-width="2.6" stroke-linecap="butt" fill="none"/>
</g>
<polyline points="424.6,48.4 428.1,43 431.6,50.5 435.1,45.4 438.6,43.6 442.1,53.2 445.6,45.4 449.1,48.8 452.6,44.2 456.1,49 459.6,49 463.1,46.2 466.6,47.4 470.1,45.4 473.6,43.3 477.1,43.6 480.6,49 484.1,49 487.6,50.8 491.1,49 494.6,48.4 498.1,46.4 501.6,45.2 505.1,51 508.6,50.4 512.1,55.9 515.6,61.2 519.1,71.4 522.6,84.3" fill="none" stroke="#8a862b" stroke-width="0.8"/>
<rect x="423.1" y="46.9" width="3" height="3" fill="#8a862b"/>
<path d="M428.1 38.5 V47.5 M427.1 38.5 H429.1 M427.1 47.5 H429.1" stroke="#8a862b" stroke-width="0.7" fill="none"/>
<rect x="426.6" y="41.5" width="3" height="3" fill="#8a862b"/>
<path d="M431.6 48.2 V52.8 M430.6 48.2 H432.6 M430.6 52.8 H432.6" stroke="#8a862b" stroke-width="0.7" fill="none"/>
<rect x="430.1" y="49" width="3" height="3" fill="#8a862b"/>
<path d="M435.1 40.2 V50.6 M434.1 40.2 H436.1 M434.1 50.6 H436.1" stroke="#8a862b" stroke-width="0.7" fill="none"/>
<rect x="433.6" y="43.9" width="3" height="3" fill="#8a862b"/>
<path d="M438.6 35.4 V51.8 M437.6 35.4 H439.6 M437.6 51.8 H439.6" stroke="#8a862b" stroke-width="0.7" fill="none"/>
<rect x="437.1" y="42.1" width="3" height="3" fill="#8a862b"/>
<path d="M442.1 50.8 V55.6 M441.1 50.8 H443.1 M441.1 55.6 H443.1" stroke="#8a862b" stroke-width="0.7" fill="none"/>
<rect x="440.6" y="51.7" width="3" height="3" fill="#8a862b"/>
<path d="M445.6 36.4 V54.4 M444.6 36.4 H446.6 M444.6 54.4 H446.6" stroke="#8a862b" stroke-width="0.7" fill="none"/>
<rect x="444.1" y="43.9" width="3" height="3" fill="#8a862b"/>
<path d="M449.1 45.2 V52.4 M448.1 45.2 H450.1 M448.1 52.4 H450.1" stroke="#8a862b" stroke-width="0.7" fill="none"/>
<rect x="447.6" y="47.3" width="3" height="3" fill="#8a862b"/>
<path d="M452.6 38.2 V50.2 M451.6 38.2 H453.6 M451.6 50.2 H453.6" stroke="#8a862b" stroke-width="0.7" fill="none"/>
<rect x="451.1" y="42.7" width="3" height="3" fill="#8a862b"/>
<rect x="454.6" y="47.5" width="3" height="3" fill="#8a862b"/>
<rect x="458.1" y="47.5" width="3" height="3" fill="#8a862b"/>
<path d="M463.1 38.1 V54.3 M462.1 38.1 H464.1 M462.1 54.3 H464.1" stroke="#8a862b" stroke-width="0.7" fill="none"/>
<rect x="461.6" y="44.7" width="3" height="3" fill="#8a862b"/>
<path d="M466.6 44.1 V50.7 M465.6 44.1 H467.6 M465.6 50.7 H467.6" stroke="#8a862b" stroke-width="0.7" fill="none"/>
<rect x="465.1" y="45.9" width="3" height="3" fill="#8a862b"/>
<path d="M470.1 42.4 V48.4 M469.1 42.4 H471.1 M469.1 48.4 H471.1" stroke="#8a862b" stroke-width="0.7" fill="none"/>
<rect x="468.6" y="43.9" width="3" height="3" fill="#8a862b"/>
<path d="M473.6 35.5 V51.1 M472.6 35.5 H474.6 M472.6 51.1 H474.6" stroke="#8a862b" stroke-width="0.7" fill="none"/>
<rect x="472.1" y="41.8" width="3" height="3" fill="#8a862b"/>
<path d="M477.1 40.6 V46.6 M476.1 40.6 H478.1 M476.1 46.6 H478.1" stroke="#8a862b" stroke-width="0.7" fill="none"/>
<rect x="475.6" y="42.1" width="3" height="3" fill="#8a862b"/>
<rect x="479.1" y="47.5" width="3" height="3" fill="#8a862b"/>
<rect x="482.6" y="47.5" width="3" height="3" fill="#8a862b"/>
<path d="M487.6 46.9 V54.7 M486.6 46.9 H488.6 M486.6 54.7 H488.6" stroke="#8a862b" stroke-width="0.7" fill="none"/>
<rect x="486.1" y="49.3" width="3" height="3" fill="#8a862b"/>
<rect x="489.6" y="47.5" width="3" height="3" fill="#8a862b"/>
<path d="M494.6 45.7 V51.1 M493.6 45.7 H495.6 M493.6 51.1 H495.6" stroke="#8a862b" stroke-width="0.7" fill="none"/>
<rect x="493.1" y="46.9" width="3" height="3" fill="#8a862b"/>
<path d="M498.1 42.2 V50.6 M497.1 42.2 H499.1 M497.1 50.6 H499.1" stroke="#8a862b" stroke-width="0.7" fill="none"/>
<rect x="496.6" y="44.9" width="3" height="3" fill="#8a862b"/>
<path d="M501.6 41.6 V48.8 M500.6 41.6 H502.6 M500.6 48.8 H502.6" stroke="#8a862b" stroke-width="0.7" fill="none"/>
<rect x="500.1" y="43.7" width="3" height="3" fill="#8a862b"/>
<path d="M505.1 46.2 V55.8 M504.1 46.2 H506.1 M504.1 55.8 H506.1" stroke="#8a862b" stroke-width="0.7" fill="none"/>
<rect x="503.6" y="49.5" width="3" height="3" fill="#8a862b"/>
<path d="M508.6 42.4 V58.4 M507.6 42.4 H509.6 M507.6 58.4 H509.6" stroke="#8a862b" stroke-width="0.7" fill="none"/>
<rect x="507.1" y="48.9" width="3" height="3" fill="#8a862b"/>
<path d="M512.1 47.5 V64.3 M511.1 47.5 H513.1 M511.1 64.3 H513.1" stroke="#8a862b" stroke-width="0.7" fill="none"/>
<rect x="510.6" y="54.4" width="3" height="3" fill="#8a862b"/>
<path d="M515.6 48.9 V73.5 M514.6 48.9 H516.6 M514.6 73.5 H516.6" stroke="#8a862b" stroke-width="0.7" fill="none"/>
<rect x="514.1" y="59.7" width="3" height="3" fill="#8a862b"/>
<path d="M519.1 63 V79.8 M518.1 63 H520.1 M518.1 79.8 H520.1" stroke="#8a862b" stroke-width="0.7" fill="none"/>
<rect x="517.6" y="69.9" width="3" height="3" fill="#8a862b"/>
<path d="M522.6 75.6 V93 M521.6 75.6 H523.6 M521.6 93 H523.6" stroke="#8a862b" stroke-width="0.7" fill="none"/>
<rect x="521.1" y="82.8" width="3" height="3" fill="#8a862b"/>
<text x="570.6" y="12" font-size="17.2" text-anchor="start" font-weight="normal" fill="#111" font-family='"Liberation Serif", serif' >D</text>
<line x1="614.4" y1="30.5" x2="614.4" y2="141.4" stroke="#3a3a3a" stroke-width="1.0"/>
<line x1="613.8" y1="141.4" x2="740.4" y2="141.4" stroke="#3a3a3a" stroke-width="1.0"/>
<line x1="612.2" y1="141.4" x2="614.4" y2="141.4" stroke="#333" stroke-width="0.8"/>
<text x="611.8" y="143.8" font-size="6.9" text-anchor="end" font-weight="normal" fill="#222" font-family='"Liberation Sans", sans-serif'  stroke="#222" stroke-width="0.18">0</text>
<line x1="612.2" y1="122.92" x2="614.4" y2="122.92" stroke="#333" stroke-width="0.8"/>
<text x="611.8" y="125.32" font-size="6.9" text-anchor="end" font-weight="normal" fill="#222" font-family='"Liberation Sans", sans-serif'  stroke="#222" stroke-width="0.18">20</text>
<line x1="612.2" y1="104.43" x2="614.4" y2="104.43" stroke="#333" stroke-width="0.8"/>
<text x="611.8" y="106.83" font-size="6.9" text-anchor="end" font-weight="normal" fill="#222" font-family='"Liberation Sans", sans-serif'  stroke="#222" stroke-width="0.18">40</text>
<line x1="612.2" y1="85.95" x2="614.4" y2="85.95" stroke="#333" stroke-width="0.8"/>
<text x="611.8" y="88.35" font-size="6.9" text-anchor="end" font-weight="normal" fill="#222" font-family='"Liberation Sans", sans-serif'  stroke="#222" stroke-width="0.18">60</text>
<line x1="612.2" y1="67.47" x2="614.4" y2="67.47" stroke="#333" stroke-width="0.8"/>
<text x="611.8" y="69.87" font-size="6.9" text-anchor="end" font-weight="normal" fill="#222" font-family='"Liberation Sans", sans-serif'  stroke="#222" stroke-width="0.18">80</text>
<line x1="612.2" y1="48.98" x2="614.4" y2="48.98" stroke="#333" stroke-width="0.8"/>
<text x="611.8" y="51.38" font-size="6.9" text-anchor="end" font-weight="normal" fill="#222" font-family='"Liberation Sans", sans-serif'  stroke="#222" stroke-width="0.18">100</text>
<line x1="612.2" y1="30.5" x2="614.4" y2="30.5" stroke="#333" stroke-width="0.8"/>
<text x="611.8" y="32.9" font-size="6.9" text-anchor="end" font-weight="normal" fill="#222" font-family='"Liberation Sans", sans-serif'  stroke="#222" stroke-width="0.18">120</text>
<line x1="614.4" y1="141.4" x2="614.4" y2="143.6" stroke="#333" stroke-width="0.8"/>
<text x="614.4" y="150.8" font-size="6.9" text-anchor="middle" font-weight="normal" fill="#222" font-family='"Liberation Sans", sans-serif'  stroke="#222" stroke-width="0.18">0</text>
<line x1="635.4" y1="141.4" x2="635.4" y2="143.6" stroke="#333" stroke-width="0.8"/>
<text x="635.4" y="150.8" font-size="6.9" text-anchor="middle" font-weight="normal" fill="#222" font-family='"Liberation Sans", sans-serif'  stroke="#222" stroke-width="0.18">3</text>
<line x1="656.4" y1="141.4" x2="656.4" y2="143.6" stroke="#333" stroke-width="0.8"/>
<text x="656.4" y="150.8" font-size="6.9" text-anchor="middle" font-weight="normal" fill="#222" font-family='"Liberation Sans", sans-serif'  stroke="#222" stroke-width="0.18">6</text>
<line x1="677.4" y1="141.4" x2="677.4" y2="143.6" stroke="#333" stroke-width="0.8"/>
<text x="677.4" y="150.8" font-size="6.9" text-anchor="middle" font-weight="normal" fill="#222" font-family='"Liberation Sans", sans-serif'  stroke="#222" stroke-width="0.18">9</text>
<line x1="698.4" y1="141.4" x2="698.4" y2="143.6" stroke="#333" stroke-width="0.8"/>
<text x="698.4" y="150.8" font-size="6.9" text-anchor="middle" font-weight="normal" fill="#222" font-family='"Liberation Sans", sans-serif'  stroke="#222" stroke-width="0.18">12</text>
<line x1="719.4" y1="141.4" x2="719.4" y2="143.6" stroke="#333" stroke-width="0.8"/>
<text x="719.4" y="150.8" font-size="6.9" text-anchor="middle" font-weight="normal" fill="#222" font-family='"Liberation Sans", sans-serif'  stroke="#222" stroke-width="0.18">15</text>
<line x1="740.4" y1="141.4" x2="740.4" y2="143.6" stroke="#333" stroke-width="0.8"/>
<text x="740.4" y="150.8" font-size="6.9" text-anchor="middle" font-weight="normal" fill="#222" font-family='"Liberation Sans", sans-serif'  stroke="#222" stroke-width="0.18">18</text>
<text x="673.9" y="162.2" font-size="7.45" text-anchor="middle" font-weight="normal" fill="#1a1a1a" font-family='"Liberation Sans", sans-serif'  stroke="#1a1a1a" stroke-width="0.15">Passage time (Days)</text>
<text x="597.7" y="85.45" font-size="7.45" text-anchor="middle" fill="#1a1a1a" stroke="#1a1a1a" stroke-width="0.15" font-family='"Liberation Sans", sans-serif' transform="rotate(-90 597.7 85.45)">Proportion of plasmid containing cells (%)</text>
<g>
<circle cx="659.6" cy="101.75" r="22.7" fill="none" stroke="#111" stroke-width="0.9"/>
<path d="M654.75 76.82 A25.4 25.4 0 0 0 646.96 79.72 L645.71 77.55 L643.55 85.7 L650.89 86.57 L649.64 84.4 A20 20 0 0 1 655.78 82.12 Z" fill="#b3c1b1"/>
<path d="M655.63 76.66 A25.4 25.4 0 0 1 662.63 76.53 L662.93 74.05 L668.1 80.7 L661.69 84.38 L661.99 81.89 A20 20 0 0 0 656.47 82 Z" fill="#a8c971"/>
<path d="M673.8 80.69 A25.4 25.4 0 0 1 679.3 85.72 L681.24 84.14 L680.34 92.52 L673.17 90.7 L675.11 89.12 A20 20 0 0 0 670.78 85.17 Z" fill="#b4d0d3"/>
<path d="M684.13 108.32 A25.4 25.4 0 0 0 684.91 99.57 L687.4 99.36 L681.72 96.64 L677.04 100.25 L679.53 100.03 A20 20 0 0 1 678.92 106.93 Z" fill="#8f8f8f"/>
<path d="M683.47 110.44 A25.4 25.4 0 0 1 682.74 112.23 L685.01 113.27 L677.73 115.41 L675.54 108.97 L677.82 110.01 A20 20 0 0 0 678.39 108.59 Z" fill="#b3b3b3"/>
<path d="M667.03 126.04 A25.4 25.4 0 0 0 674.93 122 L676.44 124 L677.24 116.04 L670.16 115.7 L671.67 117.7 A20 20 0 0 1 665.45 120.88 Z" fill="#dcdedb"/>
<path d="M664.01 126.76 A25.4 25.4 0 0 1 654.27 126.58 L653.74 129.03 L649.65 122.15 L655.93 118.86 L655.4 121.3 A20 20 0 0 0 663.07 121.45 Z" fill="#8fa087"/>
<path d="M647.29 123.97 A25.4 25.4 0 0 1 641.83 119.9 L640.09 121.69 L640.56 114.11 L647.36 114.26 L645.61 116.04 A20 20 0 0 0 649.9 119.24 Z" fill="#bfb3a7"/>
<path d="M634.67 96.9 A25.4 25.4 0 0 0 634.29 103.92 L631.8 104.13 L637.67 107.63 L642.16 103.25 L639.67 103.46 A20 20 0 0 1 639.97 97.93 Z" fill="#5f5f5f"/>
<path d="M641.02 84.43 A25.4 25.4 0 0 0 636.2 91.87 L633.9 90.9 L637.18 98.2 L643.48 94.95 L641.17 93.97 A20 20 0 0 1 644.97 88.11 Z" fill="#8595b0"/>
<rect x="668.98" y="80.19" width="3.6" height="3.6" fill="#e9aba4" transform="rotate(45 670.78 81.99)"/>
<rect x="679.29" y="92.63" width="3.6" height="3.6" fill="#e9aba4" transform="rotate(45 681.09 94.43)"/>
<text x="634.42" y="86.38" font-size="4.6" text-anchor="middle" fill="#000" stroke="#000" stroke-width="0.15" font-family='"Liberation Sans", sans-serif' transform="rotate(-52 634.42 86.38)" dy="1.6">MobA</text>
<text x="648.79" y="74.3" font-size="4.6" text-anchor="middle" fill="#000" stroke="#000" stroke-width="0.15" font-family='"Liberation Sans", sans-serif' transform="rotate(-20 648.79 74.3)" dy="1.6">MobC</text>
<text x="661.99" y="71.44" font-size="4.6" text-anchor="middle" fill="#000" stroke="#000" stroke-width="0.15" font-family='"Liberation Sans", sans-serif' transform="rotate(3 661.99 71.44)" dy="1.6">gfp</text>
<text x="679.33" y="78.23" font-size="4.6" text-anchor="middle" fill="#000" stroke="#000" stroke-width="0.15" font-family='"Liberation Sans", sans-serif' transform="rotate(39 679.33 78.23)" dy="1.6">FRT-KanR</text>
<text x="689.48" y="90.87" font-size="4.6" text-anchor="middle" fill="#000" stroke="#000" stroke-width="0.15" font-family='"Liberation Sans", sans-serif' transform="rotate(88 689.48 90.87)" dy="1.6">FRT</text>
<text x="690.18" y="102.82" font-size="4.6" text-anchor="middle" fill="#000" stroke="#000" stroke-width="0.15" font-family='"Liberation Sans", sans-serif' transform="rotate(-90 690.18 102.82)" dy="1.6">Orf2</text>
<text x="686.28" y="116.54" font-size="4.6" text-anchor="middle" fill="#000" stroke="#000" stroke-width="0.15" font-family='"Liberation Sans", sans-serif' transform="rotate(-45 686.28 116.54)" dy="1.6">Hyp2</text>
<text x="674.79" y="127.04" font-size="4.6" text-anchor="middle" fill="#000" stroke="#000" stroke-width="0.15" font-family='"Liberation Sans", sans-serif' transform="rotate(-22 674.79 127.04)" dy="1.6">Rep</text>
<text x="656.67" y="132.21" font-size="4.6" text-anchor="middle" fill="#000" stroke="#000" stroke-width="0.15" font-family='"Liberation Sans", sans-serif' transform="rotate(12 656.67 132.21)" dy="1.6">RelB</text>
<text x="642.04" y="127.78" font-size="4.6" text-anchor="middle" fill="#000" stroke="#000" stroke-width="0.15" font-family='"Liberation Sans", sans-serif' transform="rotate(34 642.04 127.78)" dy="1.6">RelE</text>
<text x="630.94" y="109.16" font-size="4.6" text-anchor="middle" fill="#000" stroke="#000" stroke-width="0.15" font-family='"Liberation Sans", sans-serif' transform="rotate(74 630.94 109.16)" dy="1.6">MobB/MobD</text>
<text x="660.2" y="97.35" font-size="6.35" text-anchor="middle" font-weight="bold" fill="#111" font-family='"Liberation Sans", sans-serif' >pMUT2D</text>
<text x="660.2" y="103.95" font-size="6.35" text-anchor="middle" font-weight="bold" fill="#111" font-family='"Liberation Sans", sans-serif' >-gfp</text>
<text x="660.2" y="111.55" font-size="6.35" text-anchor="middle" font-weight="bold" fill="#111" font-family='"Liberation Sans", sans-serif' >(7.5 kb)</text>
<path d="M633 107.4 L644.5 116 M639.5 105.2 L637 118.9" stroke="#e8161f" stroke-width="2.6" stroke-linecap="butt" fill="none"/>
</g>
<polyline points="614.7,48.8 618.2,41.6 621.7,51.4 625.2,40.4 628.7,51.7 632.2,51.2 635.7,45.7 639.2,48.4 642.7,42 646.2,43.3 649.7,51.7 653.2,50 656.7,43.3 660.2,47.6 663.7,43 667.2,37 670.7,50.5 674.2,47.2 677.7,48.1 681.2,48.1 684.7,48.1 688.2,46.4 691.7,50.2 695.2,50.8 698.7,50.8 702.2,45.8 705.7,51.8 709.2,63.5 712.7,78.8" fill="none" stroke="#ea5a19" stroke-width="0.8"/>
<rect x="613.2" y="47.3" width="3" height="3" fill="#ea5a19"/>
<path d="M618.2 38.6 V44.6 M617.2 38.6 H619.2 M617.2 44.6 H619.2" stroke="#ea5a19" stroke-width="0.7" fill="none"/>
<rect x="616.7" y="40.1" width="3" height="3" fill="#ea5a19"/>
<rect x="620.2" y="49.9" width="3" height="3" fill="#ea5a19"/>
<path d="M625.2 31.7 V49.1 M624.2 31.7 H626.2 M624.2 49.1 H626.2" stroke="#ea5a19" stroke-width="0.7" fill="none"/>
<rect x="623.7" y="38.9" width="3" height="3" fill="#ea5a19"/>
<rect x="627.2" y="50.2" width="3" height="3" fill="#ea5a19"/>
<path d="M632.2 48.2 V54.2 M631.2 48.2 H633.2 M631.2 54.2 H633.2" stroke="#ea5a19" stroke-width="0.7" fill="none"/>
<rect x="630.7" y="49.7" width="3" height="3" fill="#ea5a19"/>
<path d="M635.7 37.3 V54.1 M634.7 37.3 H636.7 M634.7 54.1 H636.7" stroke="#ea5a19" stroke-width="0.7" fill="none"/>
<rect x="634.2" y="44.2" width="3" height="3" fill="#ea5a19"/>
<rect x="637.7" y="46.9" width="3" height="3" fill="#ea5a19"/>
<path d="M642.7 32.4 V51.6 M641.7 32.4 H643.7 M641.7 51.6 H643.7" stroke="#ea5a19" stroke-width="0.7" fill="none"/>
<rect x="641.2" y="40.5" width="3" height="3" fill="#ea5a19"/>
<path d="M646.2 40.9 V45.7 M645.2 40.9 H647.2 M645.2 45.7 H647.2" stroke="#ea5a19" stroke-width="0.7" fill="none"/>
<rect x="644.7" y="41.8" width="3" height="3" fill="#ea5a19"/>
<path d="M649.7 48.4 V55 M648.7 48.4 H650.7 M648.7 55 H650.7" stroke="#ea5a19" stroke-width="0.7" fill="none"/>
<rect x="648.2" y="50.2" width="3" height="3" fill="#ea5a19"/>
<path d="M653.2 46.7 V53.3 M652.2 46.7 H654.2 M652.2 53.3 H654.2" stroke="#ea5a19" stroke-width="0.7" fill="none"/>
<rect x="651.7" y="48.5" width="3" height="3" fill="#ea5a19"/>
<path d="M656.7 39.3 V47.3 M655.7 39.3 H657.7 M655.7 47.3 H657.7" stroke="#ea5a19" stroke-width="0.7" fill="none"/>
<rect x="655.2" y="41.8" width="3" height="3" fill="#ea5a19"/>
<path d="M660.2 45.1 V50.1 M659.2 45.1 H661.2 M659.2 50.1 H661.2" stroke="#ea5a19" stroke-width="0.7" fill="none"/>
<rect x="658.7" y="46.1" width="3" height="3" fill="#ea5a19"/>
<path d="M663.7 38.2 V47.8 M662.7 38.2 H664.7 M662.7 47.8 H664.7" stroke="#ea5a19" stroke-width="0.7" fill="none"/>
<rect x="662.2" y="41.5" width="3" height="3" fill="#ea5a19"/>
<path d="M667.2 31.9 V42.1 M666.2 31.9 H668.2 M666.2 42.1 H668.2" stroke="#ea5a19" stroke-width="0.7" fill="none"/>
<rect x="665.7" y="35.5" width="3" height="3" fill="#ea5a19"/>
<rect x="669.2" y="49" width="3" height="3" fill="#ea5a19"/>
<rect x="672.7" y="45.7" width="3" height="3" fill="#ea5a19"/>
<rect x="676.2" y="46.6" width="3" height="3" fill="#ea5a19"/>
<rect x="679.7" y="46.6" width="3" height="3" fill="#ea5a19"/>
<rect x="683.2" y="46.6" width="3" height="3" fill="#ea5a19"/>
<path d="M688.2 42.2 V50.6 M687.2 42.2 H689.2 M687.2 50.6 H689.2" stroke="#ea5a19" stroke-width="0.7" fill="none"/>
<rect x="686.7" y="44.9" width="3" height="3" fill="#ea5a19"/>
<path d="M691.7 47.5 V52.9 M690.7 47.5 H692.7 M690.7 52.9 H692.7" stroke="#ea5a19" stroke-width="0.7" fill="none"/>
<rect x="690.2" y="48.7" width="3" height="3" fill="#ea5a19"/>
<rect x="693.7" y="49.3" width="3" height="3" fill="#ea5a19"/>
<path d="M698.7 47.8 V53.8 M697.7 47.8 H699.7 M697.7 53.8 H699.7" stroke="#ea5a19" stroke-width="0.7" fill="none"/>
<rect x="697.2" y="49.3" width="3" height="3" fill="#ea5a19"/>
<path d="M702.2 42.8 V48.8 M701.2 42.8 H703.2 M701.2 48.8 H703.2" stroke="#ea5a19" stroke-width="0.7" fill="none"/>
<rect x="700.7" y="44.3" width="3" height="3" fill="#ea5a19"/>
<path d="M705.7 49.3 V54.3 M704.7 49.3 H706.7 M704.7 54.3 H706.7" stroke="#ea5a19" stroke-width="0.7" fill="none"/>
<rect x="704.2" y="50.3" width="3" height="3" fill="#ea5a19"/>
<path d="M709.2 60.9 V66.1 M708.2 60.9 H710.2 M708.2 66.1 H710.2" stroke="#ea5a19" stroke-width="0.7" fill="none"/>
<rect x="707.7" y="62" width="3" height="3" fill="#ea5a19"/>
<rect x="711.2" y="77.3" width="3" height="3" fill="#ea5a19"/>
<text x="1.8" y="180.8" font-size="17.2" text-anchor="start" font-weight="normal" fill="#111" font-family='"Liberation Serif", serif' >E</text>
<line x1="44.9" y1="198.5" x2="44.9" y2="310" stroke="#9a9a9a" stroke-width="1.5"/>
<line x1="44.3" y1="310" x2="170.9" y2="310" stroke="#9a9a9a" stroke-width="1.5"/>
<line x1="42.7" y1="310" x2="44.9" y2="310" stroke="#333" stroke-width="0.8"/>
<text x="42.3" y="312.4" font-size="6.9" text-anchor="end" font-weight="normal" fill="#222" font-family='"Liberation Sans", sans-serif'  stroke="#222" stroke-width="0.18">0</text>
<line x1="42.7" y1="291.42" x2="44.9" y2="291.42" stroke="#333" stroke-width="0.8"/>
<text x="42.3" y="293.82" font-size="6.9" text-anchor="end" font-weight="normal" fill="#222" font-family='"Liberation Sans", sans-serif'  stroke="#222" stroke-width="0.18">20</text>
<line x1="42.7" y1="272.83" x2="44.9" y2="272.83" stroke="#333" stroke-width="0.8"/>
<text x="42.3" y="275.23" font-size="6.9" text-anchor="end" font-weight="normal" fill="#222" font-family='"Liberation Sans", sans-serif'  stroke="#222" stroke-width="0.18">40</text>
<line x1="42.7" y1="254.25" x2="44.9" y2="254.25" stroke="#333" stroke-width="0.8"/>
<text x="42.3" y="256.65" font-size="6.9" text-anchor="end" font-weight="normal" fill="#222" font-family='"Liberation Sans", sans-serif'  stroke="#222" stroke-width="0.18">60</text>
<line x1="42.7" y1="235.67" x2="44.9" y2="235.67" stroke="#333" stroke-width="0.8"/>
<text x="42.3" y="238.07" font-size="6.9" text-anchor="end" font-weight="normal" fill="#222" font-family='"Liberation Sans", sans-serif'  stroke="#222" stroke-width="0.18">80</text>
<line x1="42.7" y1="217.08" x2="44.9" y2="217.08" stroke="#333" stroke-width="0.8"/>
<text x="42.3" y="219.48" font-size="6.9" text-anchor="end" font-weight="normal" fill="#222" font-family='"Liberation Sans", sans-serif'  stroke="#222" stroke-width="0.18">100</text>
<line x1="42.7" y1="198.5" x2="44.9" y2="198.5" stroke="#333" stroke-width="0.8"/>
<text x="42.3" y="200.9" font-size="6.9" text-anchor="end" font-weight="normal" fill="#222" font-family='"Liberation Sans", sans-serif'  stroke="#222" stroke-width="0.18">120</text>
<line x1="44.9" y1="310" x2="44.9" y2="312.2" stroke="#333" stroke-width="0.8"/>
<text x="44.9" y="319.4" font-size="6.9" text-anchor="middle" font-weight="normal" fill="#222" font-family='"Liberation Sans", sans-serif'  stroke="#222" stroke-width="0.18">0</text>
<line x1="65.9" y1="310" x2="65.9" y2="312.2" stroke="#333" stroke-width="0.8"/>
<text x="65.9" y="319.4" font-size="6.9" text-anchor="middle" font-weight="normal" fill="#222" font-family='"Liberation Sans", sans-serif'  stroke="#222" stroke-width="0.18">3</text>
<line x1="86.9" y1="310" x2="86.9" y2="312.2" stroke="#333" stroke-width="0.8"/>
<text x="86.9" y="319.4" font-size="6.9" text-anchor="middle" font-weight="normal" fill="#222" font-family='"Liberation Sans", sans-serif'  stroke="#222" stroke-width="0.18">6</text>
<line x1="107.9" y1="310" x2="107.9" y2="312.2" stroke="#333" stroke-width="0.8"/>
<text x="107.9" y="319.4" font-size="6.9" text-anchor="middle" font-weight="normal" fill="#222" font-family='"Liberation Sans", sans-serif'  stroke="#222" stroke-width="0.18">9</text>
<line x1="128.9" y1="310" x2="128.9" y2="312.2" stroke="#333" stroke-width="0.8"/>
<text x="128.9" y="319.4" font-size="6.9" text-anchor="middle" font-weight="normal" fill="#222" font-family='"Liberation Sans", sans-serif'  stroke="#222" stroke-width="0.18">12</text>
<line x1="149.9" y1="310" x2="149.9" y2="312.2" stroke="#333" stroke-width="0.8"/>
<text x="149.9" y="319.4" font-size="6.9" text-anchor="middle" font-weight="normal" fill="#222" font-family='"Liberation Sans", sans-serif'  stroke="#222" stroke-width="0.18">15</text>
<line x1="170.9" y1="310" x2="170.9" y2="312.2" stroke="#333" stroke-width="0.8"/>
<text x="170.9" y="319.4" font-size="6.9" text-anchor="middle" font-weight="normal" fill="#222" font-family='"Liberation Sans", sans-serif'  stroke="#222" stroke-width="0.18">18</text>
<text x="104.4" y="330.8" font-size="7.45" text-anchor="middle" font-weight="normal" fill="#1a1a1a" font-family='"Liberation Sans", sans-serif'  stroke="#1a1a1a" stroke-width="0.15">Passage time (Days)</text>
<text x="28.2" y="253.75" font-size="7.45" text-anchor="middle" fill="#1a1a1a" stroke="#1a1a1a" stroke-width="0.15" font-family='"Liberation Sans", sans-serif' transform="rotate(-90 28.2 253.75)">Proportion of plasmid containing cells (%)</text>
<g>
<circle cx="83.4" cy="265.7" r="22.7" fill="none" stroke="#111" stroke-width="0.9"/>
<path d="M78.55 240.77 A25.4 25.4 0 0 0 70.76 243.67 L69.51 241.5 L67.35 249.65 L74.69 250.52 L73.44 248.35 A20 20 0 0 1 79.58 246.07 Z" fill="#b3c1b1"/>
<path d="M79.43 240.61 A25.4 25.4 0 0 1 86.43 240.48 L86.73 238 L91.9 244.65 L85.49 248.33 L85.79 245.84 A20 20 0 0 0 80.27 245.95 Z" fill="#a8c971"/>
<path d="M97.6 244.64 A25.4 25.4 0 0 1 103.1 249.67 L105.04 248.09 L104.14 256.47 L96.97 254.65 L98.91 253.07 A20 20 0 0 0 94.58 249.12 Z" fill="#b4d0d3"/>
<path d="M107.93 272.27 A25.4 25.4 0 0 0 108.71 263.52 L111.2 263.31 L105.52 260.59 L100.84 264.2 L103.33 263.98 A20 20 0 0 1 102.72 270.88 Z" fill="#8f8f8f"/>
<path d="M90.83 289.99 A25.4 25.4 0 0 0 98.73 285.95 L100.24 287.95 L101.04 279.99 L93.96 279.65 L95.47 281.65 A20 20 0 0 1 89.25 284.83 Z" fill="#dcdedb"/>
<path d="M87.81 290.71 A25.4 25.4 0 0 1 78.07 290.53 L77.54 292.98 L73.45 286.1 L79.73 282.81 L79.2 285.25 A20 20 0 0 0 86.87 285.4 Z" fill="#8fa087"/>
<path d="M71.09 287.92 A25.4 25.4 0 0 1 65.63 283.85 L63.89 285.64 L64.36 278.06 L71.16 278.21 L69.41 279.99 A20 20 0 0 0 73.7 283.19 Z" fill="#bfb3a7"/>
<path d="M61.4 278.4 A25.4 25.4 0 0 1 60.72 277.13 L58.49 278.26 L61.69 272.34 L67.77 273.58 L65.54 274.7 A20 20 0 0 0 66.08 275.7 Z" fill="#d9cbae"/>
<path d="M58.47 260.85 A25.4 25.4 0 0 0 58.09 267.87 L55.6 268.08 L61.47 271.58 L65.96 267.2 L63.47 267.41 A20 20 0 0 1 63.77 261.88 Z" fill="#5f5f5f"/>
<path d="M64.82 248.38 A25.4 25.4 0 0 0 60 255.82 L57.7 254.85 L60.98 262.15 L67.28 258.9 L64.97 257.92 A20 20 0 0 1 68.77 252.06 Z" fill="#8595b0"/>
<rect x="92.78" y="244.14" width="3.6" height="3.6" fill="#e9aba4" transform="rotate(45 94.58 245.94)"/>
<rect x="103.09" y="256.58" width="3.6" height="3.6" fill="#e9aba4" transform="rotate(45 104.89 258.38)"/>
<text x="58.22" y="250.33" font-size="4.6" text-anchor="middle" fill="#000" stroke="#000" stroke-width="0.15" font-family='"Liberation Sans", sans-serif' transform="rotate(-52 58.22 250.33)" dy="1.6">MobA</text>
<text x="72.59" y="238.25" font-size="4.6" text-anchor="middle" fill="#000" stroke="#000" stroke-width="0.15" font-family='"Liberation Sans", sans-serif' transform="rotate(-20 72.59 238.25)" dy="1.6">MobC</text>
<text x="85.79" y="235.39" font-size="4.6" text-anchor="middle" fill="#000" stroke="#000" stroke-width="0.15" font-family='"Liberation Sans", sans-serif' transform="rotate(3 85.79 235.39)" dy="1.6">gfp</text>
<text x="103.13" y="242.18" font-size="4.6" text-anchor="middle" fill="#000" stroke="#000" stroke-width="0.15" font-family='"Liberation Sans", sans-serif' transform="rotate(39 103.13 242.18)" dy="1.6">FRT-KanR</text>
<text x="113.28" y="254.82" font-size="4.6" text-anchor="middle" fill="#000" stroke="#000" stroke-width="0.15" font-family='"Liberation Sans", sans-serif' transform="rotate(88 113.28 254.82)" dy="1.6">FRT</text>
<text x="113.98" y="266.77" font-size="4.6" text-anchor="middle" fill="#000" stroke="#000" stroke-width="0.15" font-family='"Liberation Sans", sans-serif' transform="rotate(-90 113.98 266.77)" dy="1.6">Orf2</text>
<text x="110.08" y="280.49" font-size="4.6" text-anchor="middle" fill="#000" stroke="#000" stroke-width="0.15" font-family='"Liberation Sans", sans-serif' transform="rotate(-45 110.08 280.49)" dy="1.6">Hyp2</text>
<text x="98.59" y="290.99" font-size="4.6" text-anchor="middle" fill="#000" stroke="#000" stroke-width="0.15" font-family='"Liberation Sans", sans-serif' transform="rotate(-22 98.59 290.99)" dy="1.6">Rep</text>
<text x="80.47" y="296.16" font-size="4.6" text-anchor="middle" fill="#000" stroke="#000" stroke-width="0.15" font-family='"Liberation Sans", sans-serif' transform="rotate(12 80.47 296.16)" dy="1.6">RelB</text>
<text x="65.84" y="291.73" font-size="4.6" text-anchor="middle" fill="#000" stroke="#000" stroke-width="0.15" font-family='"Liberation Sans", sans-serif' transform="rotate(34 65.84 291.73)" dy="1.6">RelE</text>
<text x="54.74" y="273.11" font-size="4.6" text-anchor="middle" fill="#000" stroke="#000" stroke-width="0.15" font-family='"Liberation Sans", sans-serif' transform="rotate(74 54.74 273.11)" dy="1.6">MobB/MobD</text>
<text x="84" y="261.3" font-size="6.35" text-anchor="middle" font-weight="bold" fill="#111" font-family='"Liberation Sans", sans-serif' >pMUT2H</text>
<text x="84" y="267.9" font-size="6.35" text-anchor="middle" font-weight="bold" fill="#111" font-family='"Liberation Sans", sans-serif' >-gfp</text>
<text x="84" y="275.5" font-size="6.35" text-anchor="middle" font-weight="bold" fill="#111" font-family='"Liberation Sans", sans-serif' >(7.1 kb)</text>
<path d="M103.9 269 L103 283 M97.4 279.1 L109.6 271.9" stroke="#e8161f" stroke-width="2.6" stroke-linecap="butt" fill="none"/>
</g>
<polyline points="45.2,217.2 48.7,215.2 52.2,219.6 55.7,211.8 59.2,222.9 62.7,216.4 66.2,215.2 69.7,211.8 73.2,219.6 76.7,217.2 80.2,215.7 83.7,213 87.2,210.4 90.7,216 94.2,210.4 97.7,219.6 101.2,221.2 104.7,218.8 108.2,218.4 111.7,221.7 115.2,218 118.7,215.5 122.2,216.3 125.7,212 129.2,217.3 132.7,213.2 136.2,215 139.7,225.8 143.2,234.2" fill="none" stroke="#f9c898" stroke-width="0.8"/>
<rect x="43.7" y="215.7" width="3" height="3" fill="#f9c898"/>
<path d="M48.7 211 V219.4 M47.7 211 H49.7 M47.7 219.4 H49.7" stroke="#f9c898" stroke-width="0.7" fill="none"/>
<rect x="47.2" y="213.7" width="3" height="3" fill="#f9c898"/>
<path d="M52.2 217.6 V221.6 M51.2 217.6 H53.2 M51.2 221.6 H53.2" stroke="#f9c898" stroke-width="0.7" fill="none"/>
<rect x="50.7" y="218.1" width="3" height="3" fill="#f9c898"/>
<path d="M55.7 204.8 V218.8 M54.7 204.8 H56.7 M54.7 218.8 H56.7" stroke="#f9c898" stroke-width="0.7" fill="none"/>
<rect x="54.2" y="210.3" width="3" height="3" fill="#f9c898"/>
<path d="M59.2 218.4 V227.4 M58.2 218.4 H60.2 M58.2 227.4 H60.2" stroke="#f9c898" stroke-width="0.7" fill="none"/>
<rect x="57.7" y="221.4" width="3" height="3" fill="#f9c898"/>
<path d="M62.7 210.4 V222.4 M61.7 210.4 H63.7 M61.7 222.4 H63.7" stroke="#f9c898" stroke-width="0.7" fill="none"/>
<rect x="61.2" y="214.9" width="3" height="3" fill="#f9c898"/>
<path d="M66.2 208.7 V221.7 M65.2 208.7 H67.2 M65.2 221.7 H67.2" stroke="#f9c898" stroke-width="0.7" fill="none"/>
<rect x="64.7" y="213.7" width="3" height="3" fill="#f9c898"/>
<path d="M69.7 206.3 V217.3 M68.7 206.3 H70.7 M68.7 217.3 H70.7" stroke="#f9c898" stroke-width="0.7" fill="none"/>
<rect x="68.2" y="210.3" width="3" height="3" fill="#f9c898"/>
<path d="M73.2 216.9 V222.3 M72.2 216.9 H74.2 M72.2 222.3 H74.2" stroke="#f9c898" stroke-width="0.7" fill="none"/>
<rect x="71.7" y="218.1" width="3" height="3" fill="#f9c898"/>
<path d="M76.7 213.6 V220.8 M75.7 213.6 H77.7 M75.7 220.8 H77.7" stroke="#f9c898" stroke-width="0.7" fill="none"/>
<rect x="75.2" y="215.7" width="3" height="3" fill="#f9c898"/>
<path d="M80.2 213.9 V217.5 M79.2 213.9 H81.2 M79.2 217.5 H81.2" stroke="#f9c898" stroke-width="0.7" fill="none"/>
<rect x="78.7" y="214.2" width="3" height="3" fill="#f9c898"/>
<path d="M83.7 208.2 V217.8 M82.7 208.2 H84.7 M82.7 217.8 H84.7" stroke="#f9c898" stroke-width="0.7" fill="none"/>
<rect x="82.2" y="211.5" width="3" height="3" fill="#f9c898"/>
<path d="M87.2 207.4 V213.4 M86.2 207.4 H88.2 M86.2 213.4 H88.2" stroke="#f9c898" stroke-width="0.7" fill="none"/>
<rect x="85.7" y="208.9" width="3" height="3" fill="#f9c898"/>
<path d="M90.7 210 V222 M89.7 210 H91.7 M89.7 222 H91.7" stroke="#f9c898" stroke-width="0.7" fill="none"/>
<rect x="89.2" y="214.5" width="3" height="3" fill="#f9c898"/>
<path d="M94.2 204.7 V216.1 M93.2 204.7 H95.2 M93.2 216.1 H95.2" stroke="#f9c898" stroke-width="0.7" fill="none"/>
<rect x="92.7" y="208.9" width="3" height="3" fill="#f9c898"/>
<path d="M97.7 210 V229.2 M96.7 210 H98.7 M96.7 229.2 H98.7" stroke="#f9c898" stroke-width="0.7" fill="none"/>
<rect x="96.2" y="218.1" width="3" height="3" fill="#f9c898"/>
<path d="M101.2 215.8 V226.6 M100.2 215.8 H102.2 M100.2 226.6 H102.2" stroke="#f9c898" stroke-width="0.7" fill="none"/>
<rect x="99.7" y="219.7" width="3" height="3" fill="#f9c898"/>
<path d="M104.7 214.3 V223.3 M103.7 214.3 H105.7 M103.7 223.3 H105.7" stroke="#f9c898" stroke-width="0.7" fill="none"/>
<rect x="103.2" y="217.3" width="3" height="3" fill="#f9c898"/>
<path d="M108.2 214.2 V222.6 M107.2 214.2 H109.2 M107.2 222.6 H109.2" stroke="#f9c898" stroke-width="0.7" fill="none"/>
<rect x="106.7" y="216.9" width="3" height="3" fill="#f9c898"/>
<path d="M111.7 216.9 V226.5 M110.7 216.9 H112.7 M110.7 226.5 H112.7" stroke="#f9c898" stroke-width="0.7" fill="none"/>
<rect x="110.2" y="220.2" width="3" height="3" fill="#f9c898"/>
<path d="M115.2 213.8 V222.2 M114.2 213.8 H116.2 M114.2 222.2 H116.2" stroke="#f9c898" stroke-width="0.7" fill="none"/>
<rect x="113.7" y="216.5" width="3" height="3" fill="#f9c898"/>
<path d="M118.7 208 V223 M117.7 208 H119.7 M117.7 223 H119.7" stroke="#f9c898" stroke-width="0.7" fill="none"/>
<rect x="117.2" y="214" width="3" height="3" fill="#f9c898"/>
<path d="M122.2 208.3 V224.3 M121.2 208.3 H123.2 M121.2 224.3 H123.2" stroke="#f9c898" stroke-width="0.7" fill="none"/>
<rect x="120.7" y="214.8" width="3" height="3" fill="#f9c898"/>
<path d="M125.7 204.7 V219.3 M124.7 204.7 H126.7 M124.7 219.3 H126.7" stroke="#f9c898" stroke-width="0.7" fill="none"/>
<rect x="124.2" y="210.5" width="3" height="3" fill="#f9c898"/>
<path d="M129.2 209.8 V224.8 M128.2 209.8 H130.2 M128.2 224.8 H130.2" stroke="#f9c898" stroke-width="0.7" fill="none"/>
<rect x="127.7" y="215.8" width="3" height="3" fill="#f9c898"/>
<path d="M132.7 206.2 V220.2 M131.7 206.2 H133.7 M131.7 220.2 H133.7" stroke="#f9c898" stroke-width="0.7" fill="none"/>
<rect x="131.2" y="211.7" width="3" height="3" fill="#f9c898"/>
<path d="M136.2 207.5 V222.5 M135.2 207.5 H137.2 M135.2 222.5 H137.2" stroke="#f9c898" stroke-width="0.7" fill="none"/>
<rect x="134.7" y="213.5" width="3" height="3" fill="#f9c898"/>
<path d="M139.7 221.3 V230.3 M138.7 221.3 H140.7 M138.7 230.3 H140.7" stroke="#f9c898" stroke-width="0.7" fill="none"/>
<rect x="138.2" y="224.3" width="3" height="3" fill="#f9c898"/>
<path d="M143.2 228.2 V240.2 M142.2 228.2 H144.2 M142.2 240.2 H144.2" stroke="#f9c898" stroke-width="0.7" fill="none"/>
<rect x="141.7" y="232.7" width="3" height="3" fill="#f9c898"/>
<text x="192.6" y="180.8" font-size="17.2" text-anchor="start" font-weight="normal" fill="#111" font-family='"Liberation Serif", serif' >F</text>
<line x1="234.9" y1="198.3" x2="234.9" y2="310" stroke="#9a9a9a" stroke-width="1.5"/>
<line x1="234.3" y1="310" x2="360.9" y2="310" stroke="#9a9a9a" stroke-width="1.5"/>
<line x1="232.7" y1="310" x2="234.9" y2="310" stroke="#333" stroke-width="0.8"/>
<text x="232.3" y="312.4" font-size="6.9" text-anchor="end" font-weight="normal" fill="#222" font-family='"Liberation Sans", sans-serif'  stroke="#222" stroke-width="0.18">0</text>
<line x1="232.7" y1="291.38" x2="234.9" y2="291.38" stroke="#333" stroke-width="0.8"/>
<text x="232.3" y="293.78" font-size="6.9" text-anchor="end" font-weight="normal" fill="#222" font-family='"Liberation Sans", sans-serif'  stroke="#222" stroke-width="0.18">20</text>
<line x1="232.7" y1="272.77" x2="234.9" y2="272.77" stroke="#333" stroke-width="0.8"/>
<text x="232.3" y="275.17" font-size="6.9" text-anchor="end" font-weight="normal" fill="#222" font-family='"Liberation Sans", sans-serif'  stroke="#222" stroke-width="0.18">40</text>
<line x1="232.7" y1="254.15" x2="234.9" y2="254.15" stroke="#333" stroke-width="0.8"/>
<text x="232.3" y="256.55" font-size="6.9" text-anchor="end" font-weight="normal" fill="#222" font-family='"Liberation Sans", sans-serif'  stroke="#222" stroke-width="0.18">60</text>
<line x1="232.7" y1="235.53" x2="234.9" y2="235.53" stroke="#333" stroke-width="0.8"/>
<text x="232.3" y="237.93" font-size="6.9" text-anchor="end" font-weight="normal" fill="#222" font-family='"Liberation Sans", sans-serif'  stroke="#222" stroke-width="0.18">80</text>
<line x1="232.7" y1="216.92" x2="234.9" y2="216.92" stroke="#333" stroke-width="0.8"/>
<text x="232.3" y="219.32" font-size="6.9" text-anchor="end" font-weight="normal" fill="#222" font-family='"Liberation Sans", sans-serif'  stroke="#222" stroke-width="0.18">100</text>
<line x1="232.7" y1="198.3" x2="234.9" y2="198.3" stroke="#333" stroke-width="0.8"/>
<text x="232.3" y="200.7" font-size="6.9" text-anchor="end" font-weight="normal" fill="#222" font-family='"Liberation Sans", sans-serif'  stroke="#222" stroke-width="0.18">120</text>
<line x1="234.9" y1="310" x2="234.9" y2="312.2" stroke="#333" stroke-width="0.8"/>
<text x="234.9" y="319.4" font-size="6.9" text-anchor="middle" font-weight="normal" fill="#222" font-family='"Liberation Sans", sans-serif'  stroke="#222" stroke-width="0.18">0</text>
<line x1="255.9" y1="310" x2="255.9" y2="312.2" stroke="#333" stroke-width="0.8"/>
<text x="255.9" y="319.4" font-size="6.9" text-anchor="middle" font-weight="normal" fill="#222" font-family='"Liberation Sans", sans-serif'  stroke="#222" stroke-width="0.18">3</text>
<line x1="276.9" y1="310" x2="276.9" y2="312.2" stroke="#333" stroke-width="0.8"/>
<text x="276.9" y="319.4" font-size="6.9" text-anchor="middle" font-weight="normal" fill="#222" font-family='"Liberation Sans", sans-serif'  stroke="#222" stroke-width="0.18">6</text>
<line x1="297.9" y1="310" x2="297.9" y2="312.2" stroke="#333" stroke-width="0.8"/>
<text x="297.9" y="319.4" font-size="6.9" text-anchor="middle" font-weight="normal" fill="#222" font-family='"Liberation Sans", sans-serif'  stroke="#222" stroke-width="0.18">9</text>
<line x1="318.9" y1="310" x2="318.9" y2="312.2" stroke="#333" stroke-width="0.8"/>
<text x="318.9" y="319.4" font-size="6.9" text-anchor="middle" font-weight="normal" fill="#222" font-family='"Liberation Sans", sans-serif'  stroke="#222" stroke-width="0.18">12</text>
<line x1="339.9" y1="310" x2="339.9" y2="312.2" stroke="#333" stroke-width="0.8"/>
<text x="339.9" y="319.4" font-size="6.9" text-anchor="middle" font-weight="normal" fill="#222" font-family='"Liberation Sans", sans-serif'  stroke="#222" stroke-width="0.18">15</text>
<line x1="360.9" y1="310" x2="360.9" y2="312.2" stroke="#333" stroke-width="0.8"/>
<text x="360.9" y="319.4" font-size="6.9" text-anchor="middle" font-weight="normal" fill="#222" font-family='"Liberation Sans", sans-serif'  stroke="#222" stroke-width="0.18">18</text>
<text x="294.4" y="330.8" font-size="7.45" text-anchor="middle" font-weight="normal" fill="#1a1a1a" font-family='"Liberation Sans", sans-serif'  stroke="#1a1a1a" stroke-width="0.15">Passage time (Days)</text>
<text x="218.2" y="253.65" font-size="7.45" text-anchor="middle" fill="#1a1a1a" stroke="#1a1a1a" stroke-width="0.15" font-family='"Liberation Sans", sans-serif' transform="rotate(-90 218.2 253.65)">Proportion of plasmid containing cells (%)</text>
<g>
<circle cx="318.3" cy="255.2" r="22.7" fill="none" stroke="#111" stroke-width="0.9"/>
<path d="M313.45 230.27 A25.4 25.4 0 0 0 305.66 233.17 L304.41 231 L302.25 239.15 L309.59 240.02 L308.34 237.85 A20 20 0 0 1 314.48 235.57 Z" fill="#b3c1b1"/>
<path d="M314.33 230.11 A25.4 25.4 0 0 1 321.33 229.98 L321.63 227.5 L326.8 234.15 L320.39 237.83 L320.69 235.34 A20 20 0 0 0 315.17 235.45 Z" fill="#a8c971"/>
<path d="M332.5 234.14 A25.4 25.4 0 0 1 338 239.17 L339.94 237.59 L339.04 245.97 L331.87 244.15 L333.81 242.57 A20 20 0 0 0 329.48 238.62 Z" fill="#b4d0d3"/>
<path d="M342.83 261.77 A25.4 25.4 0 0 0 343.61 253.02 L346.1 252.81 L340.42 250.09 L335.74 253.7 L338.23 253.48 A20 20 0 0 1 337.62 260.38 Z" fill="#8f8f8f"/>
<path d="M342.17 263.89 A25.4 25.4 0 0 1 341.44 265.68 L343.71 266.72 L336.43 268.86 L334.24 262.42 L336.52 263.46 A20 20 0 0 0 337.09 262.04 Z" fill="#b3b3b3"/>
<path d="M325.73 279.49 A25.4 25.4 0 0 0 333.63 275.45 L335.14 277.45 L335.94 269.49 L328.86 269.15 L330.37 271.15 A20 20 0 0 1 324.15 274.33 Z" fill="#dcdedb"/>
<path d="M322.71 280.21 A25.4 25.4 0 0 1 312.97 280.03 L312.44 282.48 L308.35 275.6 L314.63 272.31 L314.1 274.75 A20 20 0 0 0 321.77 274.9 Z" fill="#8fa087"/>
<path d="M296.3 267.9 A25.4 25.4 0 0 1 295.62 266.63 L293.39 267.76 L296.59 261.84 L302.67 263.08 L300.44 264.2 A20 20 0 0 0 300.98 265.2 Z" fill="#d9cbae"/>
<path d="M293.37 250.35 A25.4 25.4 0 0 0 292.99 257.37 L290.5 257.58 L296.37 261.08 L300.86 256.7 L298.37 256.91 A20 20 0 0 1 298.67 251.38 Z" fill="#5f5f5f"/>
<path d="M299.72 237.88 A25.4 25.4 0 0 0 294.9 245.32 L292.6 244.35 L295.88 251.65 L302.18 248.4 L299.87 247.42 A20 20 0 0 1 303.67 241.56 Z" fill="#8595b0"/>
<rect x="327.68" y="233.64" width="3.6" height="3.6" fill="#e9aba4" transform="rotate(45 329.48 235.44)"/>
<rect x="337.99" y="246.08" width="3.6" height="3.6" fill="#e9aba4" transform="rotate(45 339.79 247.88)"/>
<text x="293.12" y="239.83" font-size="4.6" text-anchor="middle" fill="#000" stroke="#000" stroke-width="0.15" font-family='"Liberation Sans", sans-serif' transform="rotate(-52 293.12 239.83)" dy="1.6">MobA</text>
<text x="307.49" y="227.75" font-size="4.6" text-anchor="middle" fill="#000" stroke="#000" stroke-width="0.15" font-family='"Liberation Sans", sans-serif' transform="rotate(-20 307.49 227.75)" dy="1.6">MobC</text>
<text x="320.69" y="224.89" font-size="4.6" text-anchor="middle" fill="#000" stroke="#000" stroke-width="0.15" font-family='"Liberation Sans", sans-serif' transform="rotate(3 320.69 224.89)" dy="1.6">gfp</text>
<text x="338.03" y="231.68" font-size="4.6" text-anchor="middle" fill="#000" stroke="#000" stroke-width="0.15" font-family='"Liberation Sans", sans-serif' transform="rotate(39 338.03 231.68)" dy="1.6">FRT-KanR</text>
<text x="348.18" y="244.32" font-size="4.6" text-anchor="middle" fill="#000" stroke="#000" stroke-width="0.15" font-family='"Liberation Sans", sans-serif' transform="rotate(88 348.18 244.32)" dy="1.6">FRT</text>
<text x="348.88" y="256.27" font-size="4.6" text-anchor="middle" fill="#000" stroke="#000" stroke-width="0.15" font-family='"Liberation Sans", sans-serif' transform="rotate(-90 348.88 256.27)" dy="1.6">Orf2</text>
<text x="344.98" y="269.99" font-size="4.6" text-anchor="middle" fill="#000" stroke="#000" stroke-width="0.15" font-family='"Liberation Sans", sans-serif' transform="rotate(-45 344.98 269.99)" dy="1.6">Hyp2</text>
<text x="333.49" y="280.49" font-size="4.6" text-anchor="middle" fill="#000" stroke="#000" stroke-width="0.15" font-family='"Liberation Sans", sans-serif' transform="rotate(-22 333.49 280.49)" dy="1.6">Rep</text>
<text x="315.37" y="285.66" font-size="4.6" text-anchor="middle" fill="#000" stroke="#000" stroke-width="0.15" font-family='"Liberation Sans", sans-serif' transform="rotate(12 315.37 285.66)" dy="1.6">RelB</text>
<text x="300.74" y="281.23" font-size="4.6" text-anchor="middle" fill="#000" stroke="#000" stroke-width="0.15" font-family='"Liberation Sans", sans-serif' transform="rotate(34 300.74 281.23)" dy="1.6">RelE</text>
<text x="289.64" y="262.61" font-size="4.6" text-anchor="middle" fill="#000" stroke="#000" stroke-width="0.15" font-family='"Liberation Sans", sans-serif' transform="rotate(74 289.64 262.61)" dy="1.6">MobB/MobD</text>
<text x="318.9" y="250.8" font-size="6.35" text-anchor="middle" font-weight="bold" fill="#111" font-family='"Liberation Sans", sans-serif' >pMUT2T</text>
<text x="318.9" y="257.4" font-size="6.35" text-anchor="middle" font-weight="bold" fill="#111" font-family='"Liberation Sans", sans-serif' >-gfp</text>
<text x="318.9" y="265" font-size="6.35" text-anchor="middle" font-weight="bold" fill="#111" font-family='"Liberation Sans", sans-serif' >(7.5 kb)</text>
<path d="M296.5 271.5 L311.6 274.5 M300.1 267.2 L307.6 280.1" stroke="#e8161f" stroke-width="2.6" stroke-linecap="butt" fill="none"/>
</g>
<polyline points="235.2,217.2 238.7,220.2 242.2,215.3 245.7,219 249.2,209.7 252.7,227.3 256.2,232.6 259.7,226.8 263.2,231.8 266.7,244.2 270.2,252 273.7,255.8 277.2,262.6 280.7,272.2 284.2,286.6" fill="none" stroke="#6497c6" stroke-width="0.8"/>
<rect x="233.7" y="215.7" width="3" height="3" fill="#6497c6"/>
<path d="M238.7 218.4 V222 M237.7 218.4 H239.7 M237.7 222 H239.7" stroke="#6497c6" stroke-width="0.7" fill="none"/>
<rect x="237.2" y="218.7" width="3" height="3" fill="#6497c6"/>
<path d="M242.2 209.3 V221.3 M241.2 209.3 H243.2 M241.2 221.3 H243.2" stroke="#6497c6" stroke-width="0.7" fill="none"/>
<rect x="240.7" y="213.8" width="3" height="3" fill="#6497c6"/>
<path d="M245.7 210.4 V227.6 M244.7 210.4 H246.7 M244.7 227.6 H246.7" stroke="#6497c6" stroke-width="0.7" fill="none"/>
<rect x="244.2" y="217.5" width="3" height="3" fill="#6497c6"/>
<path d="M249.2 202.8 V216.6 M248.2 202.8 H250.2 M248.2 216.6 H250.2" stroke="#6497c6" stroke-width="0.7" fill="none"/>
<rect x="247.7" y="208.2" width="3" height="3" fill="#6497c6"/>
<path d="M252.7 221.8 V232.8 M251.7 221.8 H253.7 M251.7 232.8 H253.7" stroke="#6497c6" stroke-width="0.7" fill="none"/>
<rect x="251.2" y="225.8" width="3" height="3" fill="#6497c6"/>
<path d="M256.2 229.1 V236.1 M255.2 229.1 H257.2 M255.2 236.1 H257.2" stroke="#6497c6" stroke-width="0.7" fill="none"/>
<rect x="254.7" y="231.1" width="3" height="3" fill="#6497c6"/>
<path d="M259.7 224.8 V228.8 M258.7 224.8 H260.7 M258.7 228.8 H260.7" stroke="#6497c6" stroke-width="0.7" fill="none"/>
<rect x="258.2" y="225.3" width="3" height="3" fill="#6497c6"/>
<path d="M263.2 229.3 V234.3 M262.2 229.3 H264.2 M262.2 234.3 H264.2" stroke="#6497c6" stroke-width="0.7" fill="none"/>
<rect x="261.7" y="230.3" width="3" height="3" fill="#6497c6"/>
<path d="M266.7 239.2 V249.2 M265.7 239.2 H267.7 M265.7 249.2 H267.7" stroke="#6497c6" stroke-width="0.7" fill="none"/>
<rect x="265.2" y="242.7" width="3" height="3" fill="#6497c6"/>
<path d="M270.2 249.8 V254.2 M269.2 249.8 H271.2 M269.2 254.2 H271.2" stroke="#6497c6" stroke-width="0.7" fill="none"/>
<rect x="268.7" y="250.5" width="3" height="3" fill="#6497c6"/>
<rect x="272.2" y="254.3" width="3" height="3" fill="#6497c6"/>
<path d="M277.2 258.6 V266.6 M276.2 258.6 H278.2 M276.2 266.6 H278.2" stroke="#6497c6" stroke-width="0.7" fill="none"/>
<rect x="275.7" y="261.1" width="3" height="3" fill="#6497c6"/>
<path d="M280.7 268.9 V275.5 M279.7 268.9 H281.7 M279.7 275.5 H281.7" stroke="#6497c6" stroke-width="0.7" fill="none"/>
<rect x="279.2" y="270.7" width="3" height="3" fill="#6497c6"/>
<path d="M284.2 283.6 V289.6 M283.2 283.6 H285.2 M283.2 289.6 H285.2" stroke="#6497c6" stroke-width="0.7" fill="none"/>
<rect x="282.7" y="285.1" width="3" height="3" fill="#6497c6"/>
<text x="381" y="185.3" font-size="17.2" text-anchor="start" font-weight="normal" fill="#111" font-family='"Liberation Serif", serif' >G</text>
<line x1="422.5" y1="199.5" x2="422.5" y2="303.8" stroke="#333" stroke-width="1"/>
<line x1="422" y1="303.8" x2="552.5" y2="303.8" stroke="#777" stroke-width="1.3"/>
<line x1="420.3" y1="303.8" x2="422.5" y2="303.8" stroke="#333" stroke-width="0.8"/>
<text x="418.9" y="306.5" font-size="7.5" text-anchor="end" font-weight="normal" fill="#1a1a1a" font-family='"Liberation Sans", sans-serif'  stroke="#1a1a1a" stroke-width="0.18">0</text>
<line x1="420.3" y1="282.94" x2="422.5" y2="282.94" stroke="#333" stroke-width="0.8"/>
<text x="418.9" y="285.64" font-size="7.5" text-anchor="end" font-weight="normal" fill="#1a1a1a" font-family='"Liberation Sans", sans-serif'  stroke="#1a1a1a" stroke-width="0.18">1</text>
<line x1="420.3" y1="262.08" x2="422.5" y2="262.08" stroke="#333" stroke-width="0.8"/>
<text x="418.9" y="264.78" font-size="7.5" text-anchor="end" font-weight="normal" fill="#1a1a1a" font-family='"Liberation Sans", sans-serif'  stroke="#1a1a1a" stroke-width="0.18">2</text>
<line x1="420.3" y1="241.22" x2="422.5" y2="241.22" stroke="#333" stroke-width="0.8"/>
<text x="418.9" y="243.92" font-size="7.5" text-anchor="end" font-weight="normal" fill="#1a1a1a" font-family='"Liberation Sans", sans-serif'  stroke="#1a1a1a" stroke-width="0.18">3</text>
<line x1="420.3" y1="220.36" x2="422.5" y2="220.36" stroke="#333" stroke-width="0.8"/>
<text x="418.9" y="223.06" font-size="7.5" text-anchor="end" font-weight="normal" fill="#1a1a1a" font-family='"Liberation Sans", sans-serif'  stroke="#1a1a1a" stroke-width="0.18">4</text>
<line x1="420.3" y1="199.5" x2="422.5" y2="199.5" stroke="#333" stroke-width="0.8"/>
<text x="418.9" y="202.2" font-size="7.5" text-anchor="end" font-weight="normal" fill="#1a1a1a" font-family='"Liberation Sans", sans-serif'  stroke="#1a1a1a" stroke-width="0.18">5</text>
<line x1="422.5" y1="303.8" x2="422.5" y2="306" stroke="#333" stroke-width="0.8"/>
<text x="422.5" y="313.8" font-size="7.5" text-anchor="middle" font-weight="normal" fill="#1a1a1a" font-family='"Liberation Sans", sans-serif'  stroke="#1a1a1a" stroke-width="0.18">0</text>
<line x1="448.5" y1="303.8" x2="448.5" y2="306" stroke="#333" stroke-width="0.8"/>
<text x="448.5" y="313.8" font-size="7.5" text-anchor="middle" font-weight="normal" fill="#1a1a1a" font-family='"Liberation Sans", sans-serif'  stroke="#1a1a1a" stroke-width="0.18">3</text>
<line x1="474.5" y1="303.8" x2="474.5" y2="306" stroke="#333" stroke-width="0.8"/>
<text x="474.5" y="313.8" font-size="7.5" text-anchor="middle" font-weight="normal" fill="#1a1a1a" font-family='"Liberation Sans", sans-serif'  stroke="#1a1a1a" stroke-width="0.18">6</text>
<line x1="500.5" y1="303.8" x2="500.5" y2="306" stroke="#333" stroke-width="0.8"/>
<text x="500.5" y="313.8" font-size="7.5" text-anchor="middle" font-weight="normal" fill="#1a1a1a" font-family='"Liberation Sans", sans-serif'  stroke="#1a1a1a" stroke-width="0.18">9</text>
<line x1="526.5" y1="303.8" x2="526.5" y2="306" stroke="#333" stroke-width="0.8"/>
<text x="526.5" y="313.8" font-size="7.5" text-anchor="middle" font-weight="normal" fill="#1a1a1a" font-family='"Liberation Sans", sans-serif'  stroke="#1a1a1a" stroke-width="0.18">12</text>
<line x1="552.5" y1="303.8" x2="552.5" y2="306" stroke="#333" stroke-width="0.8"/>
<text x="552.5" y="313.8" font-size="7.5" text-anchor="middle" font-weight="normal" fill="#1a1a1a" font-family='"Liberation Sans", sans-serif'  stroke="#1a1a1a" stroke-width="0.18">15</text>
<text x="472.4" y="323.3" font-size="7.6" text-anchor="start" font-weight="normal" fill="#1a1a1a" font-family='"Liberation Sans", sans-serif'  stroke="#1a1a1a" stroke-width="0.15">Time</text>
<text x="492.2" y="323.3" font-size="7.3" text-anchor="start" font-weight="normal" fill="#333" font-family='"Liberation Sans", sans-serif' >(h)</text>
<text x="410.2" y="257" font-size="7.4" fill="#222" font-family='"Liberation Sans", sans-serif' transform="rotate(-90 410.2 257)">OD<tspan font-size="4.6" dy="1.6">600</tspan></text>
<polyline points="422.5,303.38 431.17,301.71 444.17,296.92 457.17,266.46 470.17,233.5 483.17,212.02 496.17,217.23 513.5,218.27 526.5,216.19" fill="none" stroke="#9bcd98" stroke-width="0.85"/>
<rect x="421.1" y="301.98" width="2.8" height="2.8" fill="#9bcd98"/>
<rect x="429.77" y="300.31" width="2.8" height="2.8" fill="#9bcd98"/>
<path d="M444.17 295.25 V298.58 M442.87 295.25 H445.47 M442.87 298.58 H445.47" stroke="#9bcd98" stroke-width="0.8" fill="none"/>
<rect x="442.77" y="295.52" width="2.8" height="2.8" fill="#9bcd98"/>
<path d="M457.17 256.66 V276.26 M455.87 256.66 H458.47 M455.87 276.26 H458.47" stroke="#9bcd98" stroke-width="0.8" fill="none"/>
<rect x="455.77" y="265.06" width="2.8" height="2.8" fill="#9bcd98"/>
<path d="M470.17 231 V236 M468.87 231 H471.47 M468.87 236 H471.47" stroke="#9bcd98" stroke-width="0.8" fill="none"/>
<rect x="468.77" y="232.1" width="2.8" height="2.8" fill="#9bcd98"/>
<path d="M483.17 209.93 V214.1 M481.87 209.93 H484.47 M481.87 214.1 H484.47" stroke="#9bcd98" stroke-width="0.8" fill="none"/>
<rect x="481.77" y="210.62" width="2.8" height="2.8" fill="#9bcd98"/>
<path d="M496.17 215.14 V219.32 M494.87 215.14 H497.47 M494.87 219.32 H497.47" stroke="#9bcd98" stroke-width="0.8" fill="none"/>
<rect x="494.77" y="215.83" width="2.8" height="2.8" fill="#9bcd98"/>
<rect x="512.1" y="216.87" width="2.8" height="2.8" fill="#9bcd98"/>
<path d="M526.5 214.1 V218.27 M525.2 214.1 H527.8 M525.2 218.27 H527.8" stroke="#9bcd98" stroke-width="0.8" fill="none"/>
<rect x="525.1" y="214.79" width="2.8" height="2.8" fill="#9bcd98"/>
<polyline points="422.5,302.76 431.17,292.33 444.17,280.85 457.17,232.88 470.17,216.19 483.17,208.89 496.17,216.19 513.5,218.27 526.5,217.23" fill="none" stroke="#f9c898" stroke-width="0.85"/>
<rect x="421.1" y="301.36" width="2.8" height="2.8" fill="#f9c898"/>
<path d="M431.17 291.28 V293.37 M429.87 291.28 H432.47 M429.87 293.37 H432.47" stroke="#f9c898" stroke-width="0.8" fill="none"/>
<rect x="429.77" y="290.93" width="2.8" height="2.8" fill="#f9c898"/>
<path d="M444.17 279.19 V282.52 M442.87 279.19 H445.47 M442.87 282.52 H445.47" stroke="#f9c898" stroke-width="0.8" fill="none"/>
<rect x="442.77" y="279.45" width="2.8" height="2.8" fill="#f9c898"/>
<path d="M457.17 230.79 V234.96 M455.87 230.79 H458.47 M455.87 234.96 H458.47" stroke="#f9c898" stroke-width="0.8" fill="none"/>
<rect x="455.77" y="231.48" width="2.8" height="2.8" fill="#f9c898"/>
<path d="M470.17 214.1 V218.27 M468.87 214.1 H471.47 M468.87 218.27 H471.47" stroke="#f9c898" stroke-width="0.8" fill="none"/>
<rect x="468.77" y="214.79" width="2.8" height="2.8" fill="#f9c898"/>
<path d="M483.17 206.8 V210.97 M481.87 206.8 H484.47 M481.87 210.97 H484.47" stroke="#f9c898" stroke-width="0.8" fill="none"/>
<rect x="481.77" y="207.49" width="2.8" height="2.8" fill="#f9c898"/>
<path d="M496.17 212.02 V220.36 M494.87 212.02 H497.47 M494.87 220.36 H497.47" stroke="#f9c898" stroke-width="0.8" fill="none"/>
<rect x="494.77" y="214.79" width="2.8" height="2.8" fill="#f9c898"/>
<path d="M513.5 216.19 V220.36 M512.2 216.19 H514.8 M512.2 220.36 H514.8" stroke="#f9c898" stroke-width="0.8" fill="none"/>
<rect x="512.1" y="216.87" width="2.8" height="2.8" fill="#f9c898"/>
<path d="M526.5 215.14 V219.32 M525.2 215.14 H527.8 M525.2 219.32 H527.8" stroke="#f9c898" stroke-width="0.8" fill="none"/>
<rect x="525.1" y="215.83" width="2.8" height="2.8" fill="#f9c898"/>
<polyline points="422.5,302.76 431.17,294.83 444.17,283.98 457.17,234.96 470.17,217.23 483.17,207.84 496.17,216.19 513.5,217.23 526.5,216.19" fill="none" stroke="#6497c6" stroke-width="0.85"/>
<rect x="421.1" y="301.36" width="2.8" height="2.8" fill="#6497c6"/>
<path d="M431.17 293.79 V295.87 M429.87 293.79 H432.47 M429.87 295.87 H432.47" stroke="#6497c6" stroke-width="0.8" fill="none"/>
<rect x="429.77" y="293.43" width="2.8" height="2.8" fill="#6497c6"/>
<path d="M444.17 282.94 V285.03 M442.87 282.94 H445.47 M442.87 285.03 H445.47" stroke="#6497c6" stroke-width="0.8" fill="none"/>
<rect x="442.77" y="282.58" width="2.8" height="2.8" fill="#6497c6"/>
<path d="M457.17 232.88 V237.05 M455.87 232.88 H458.47 M455.87 237.05 H458.47" stroke="#6497c6" stroke-width="0.8" fill="none"/>
<rect x="455.77" y="233.56" width="2.8" height="2.8" fill="#6497c6"/>
<path d="M470.17 215.14 V219.32 M468.87 215.14 H471.47 M468.87 219.32 H471.47" stroke="#6497c6" stroke-width="0.8" fill="none"/>
<rect x="468.77" y="215.83" width="2.8" height="2.8" fill="#6497c6"/>
<path d="M483.17 205.76 V209.93 M481.87 205.76 H484.47 M481.87 209.93 H484.47" stroke="#6497c6" stroke-width="0.8" fill="none"/>
<rect x="481.77" y="206.44" width="2.8" height="2.8" fill="#6497c6"/>
<path d="M496.17 214.1 V218.27 M494.87 214.1 H497.47 M494.87 218.27 H497.47" stroke="#6497c6" stroke-width="0.8" fill="none"/>
<rect x="494.77" y="214.79" width="2.8" height="2.8" fill="#6497c6"/>
<path d="M513.5 215.14 V219.32 M512.2 215.14 H514.8 M512.2 219.32 H514.8" stroke="#6497c6" stroke-width="0.8" fill="none"/>
<rect x="512.1" y="215.83" width="2.8" height="2.8" fill="#6497c6"/>
<path d="M526.5 214.1 V218.27 M525.2 214.1 H527.8 M525.2 218.27 H527.8" stroke="#6497c6" stroke-width="0.8" fill="none"/>
<rect x="525.1" y="214.79" width="2.8" height="2.8" fill="#6497c6"/>
<polyline points="422.5,302.76 431.17,293.37 444.17,282.94 457.17,233.92 470.17,216.19 483.17,203.05 496.17,210.97 513.5,216.19 526.5,216.19" fill="none" stroke="#35b9bd" stroke-width="0.85"/>
<rect x="421.1" y="301.36" width="2.8" height="2.8" fill="#35b9bd"/>
<path d="M431.17 292.33 V294.41 M429.87 292.33 H432.47 M429.87 294.41 H432.47" stroke="#35b9bd" stroke-width="0.8" fill="none"/>
<rect x="429.77" y="291.97" width="2.8" height="2.8" fill="#35b9bd"/>
<path d="M444.17 281.9 V283.98 M442.87 281.9 H445.47 M442.87 283.98 H445.47" stroke="#35b9bd" stroke-width="0.8" fill="none"/>
<rect x="442.77" y="281.54" width="2.8" height="2.8" fill="#35b9bd"/>
<path d="M457.17 231.83 V236.01 M455.87 231.83 H458.47 M455.87 236.01 H458.47" stroke="#35b9bd" stroke-width="0.8" fill="none"/>
<rect x="455.77" y="232.52" width="2.8" height="2.8" fill="#35b9bd"/>
<path d="M470.17 214.1 V218.27 M468.87 214.1 H471.47 M468.87 218.27 H471.47" stroke="#35b9bd" stroke-width="0.8" fill="none"/>
<rect x="468.77" y="214.79" width="2.8" height="2.8" fill="#35b9bd"/>
<path d="M483.17 200.96 V205.13 M481.87 200.96 H484.47 M481.87 205.13 H484.47" stroke="#35b9bd" stroke-width="0.8" fill="none"/>
<rect x="481.77" y="201.65" width="2.8" height="2.8" fill="#35b9bd"/>
<path d="M496.17 208.89 V213.06 M494.87 208.89 H497.47 M494.87 213.06 H497.47" stroke="#35b9bd" stroke-width="0.8" fill="none"/>
<rect x="494.77" y="209.57" width="2.8" height="2.8" fill="#35b9bd"/>
<path d="M513.5 214.1 V218.27 M512.2 214.1 H514.8 M512.2 218.27 H514.8" stroke="#35b9bd" stroke-width="0.8" fill="none"/>
<rect x="512.1" y="214.79" width="2.8" height="2.8" fill="#35b9bd"/>
<path d="M526.5 214.1 V218.27 M525.2 214.1 H527.8 M525.2 218.27 H527.8" stroke="#35b9bd" stroke-width="0.8" fill="none"/>
<rect x="525.1" y="214.79" width="2.8" height="2.8" fill="#35b9bd"/>
<polyline points="422.5,302.76 431.17,291.7 444.17,278.77 457.17,231.83 470.17,214.1 483.17,207.84 496.17,214.1 513.5,213.48 526.5,215.15" fill="none" stroke="#8a862b" stroke-width="0.85"/>
<rect x="421.1" y="301.36" width="2.8" height="2.8" fill="#8a862b"/>
<path d="M431.17 290.66 V292.74 M429.87 290.66 H432.47 M429.87 292.74 H432.47" stroke="#8a862b" stroke-width="0.8" fill="none"/>
<rect x="429.77" y="290.3" width="2.8" height="2.8" fill="#8a862b"/>
<path d="M444.17 277.73 V279.81 M442.87 277.73 H445.47 M442.87 279.81 H445.47" stroke="#8a862b" stroke-width="0.8" fill="none"/>
<rect x="442.77" y="277.37" width="2.8" height="2.8" fill="#8a862b"/>
<path d="M457.17 229.75 V233.92 M455.87 229.75 H458.47 M455.87 233.92 H458.47" stroke="#8a862b" stroke-width="0.8" fill="none"/>
<rect x="455.77" y="230.43" width="2.8" height="2.8" fill="#8a862b"/>
<path d="M470.17 212.02 V216.19 M468.87 212.02 H471.47 M468.87 216.19 H471.47" stroke="#8a862b" stroke-width="0.8" fill="none"/>
<rect x="468.77" y="212.7" width="2.8" height="2.8" fill="#8a862b"/>
<path d="M483.17 205.76 V209.93 M481.87 205.76 H484.47 M481.87 209.93 H484.47" stroke="#8a862b" stroke-width="0.8" fill="none"/>
<rect x="481.77" y="206.44" width="2.8" height="2.8" fill="#8a862b"/>
<path d="M496.17 212.02 V216.19 M494.87 212.02 H497.47 M494.87 216.19 H497.47" stroke="#8a862b" stroke-width="0.8" fill="none"/>
<rect x="494.77" y="212.7" width="2.8" height="2.8" fill="#8a862b"/>
<path d="M513.5 211.39 V215.56 M512.2 211.39 H514.8 M512.2 215.56 H514.8" stroke="#8a862b" stroke-width="0.8" fill="none"/>
<rect x="512.1" y="212.08" width="2.8" height="2.8" fill="#8a862b"/>
<path d="M526.5 213.06 V217.23 M525.2 213.06 H527.8 M525.2 217.23 H527.8" stroke="#8a862b" stroke-width="0.8" fill="none"/>
<rect x="525.1" y="213.75" width="2.8" height="2.8" fill="#8a862b"/>
<polyline points="422.5,302.76 431.17,291.28 444.17,277.73 457.17,229.75 470.17,213.06 483.17,207.84 496.17,214.1 513.5,214.1 526.5,216.19" fill="none" stroke="#7a4a4d" stroke-width="0.85"/>
<rect x="421.1" y="301.36" width="2.8" height="2.8" fill="#7a4a4d"/>
<path d="M431.17 290.24 V292.33 M429.87 290.24 H432.47 M429.87 292.33 H432.47" stroke="#7a4a4d" stroke-width="0.8" fill="none"/>
<rect x="429.77" y="289.88" width="2.8" height="2.8" fill="#7a4a4d"/>
<path d="M444.17 276.68 V278.77 M442.87 276.68 H445.47 M442.87 278.77 H445.47" stroke="#7a4a4d" stroke-width="0.8" fill="none"/>
<rect x="442.77" y="276.33" width="2.8" height="2.8" fill="#7a4a4d"/>
<path d="M457.17 227.66 V231.83 M455.87 227.66 H458.47 M455.87 231.83 H458.47" stroke="#7a4a4d" stroke-width="0.8" fill="none"/>
<rect x="455.77" y="228.35" width="2.8" height="2.8" fill="#7a4a4d"/>
<path d="M470.17 207.84 V218.27 M468.87 207.84 H471.47 M468.87 218.27 H471.47" stroke="#7a4a4d" stroke-width="0.8" fill="none"/>
<rect x="468.77" y="211.66" width="2.8" height="2.8" fill="#7a4a4d"/>
<path d="M483.17 205.76 V209.93 M481.87 205.76 H484.47 M481.87 209.93 H484.47" stroke="#7a4a4d" stroke-width="0.8" fill="none"/>
<rect x="481.77" y="206.44" width="2.8" height="2.8" fill="#7a4a4d"/>
<path d="M496.17 212.02 V216.19 M494.87 212.02 H497.47 M494.87 216.19 H497.47" stroke="#7a4a4d" stroke-width="0.8" fill="none"/>
<rect x="494.77" y="212.7" width="2.8" height="2.8" fill="#7a4a4d"/>
<path d="M513.5 212.02 V216.19 M512.2 212.02 H514.8 M512.2 216.19 H514.8" stroke="#7a4a4d" stroke-width="0.8" fill="none"/>
<rect x="512.1" y="212.7" width="2.8" height="2.8" fill="#7a4a4d"/>
<path d="M526.5 214.1 V218.27 M525.2 214.1 H527.8 M525.2 218.27 H527.8" stroke="#7a4a4d" stroke-width="0.8" fill="none"/>
<rect x="525.1" y="214.79" width="2.8" height="2.8" fill="#7a4a4d"/>
<polyline points="422.5,302.76 431.17,290.24 444.17,275.64 457.17,228.7 470.17,214.1 483.17,206.8 496.17,213.06 513.5,216.19 526.5,214.1" fill="none" stroke="#ea5a19" stroke-width="0.85"/>
<rect x="421.1" y="301.36" width="2.8" height="2.8" fill="#ea5a19"/>
<path d="M431.17 289.2 V291.28 M429.87 289.2 H432.47 M429.87 291.28 H432.47" stroke="#ea5a19" stroke-width="0.8" fill="none"/>
<rect x="429.77" y="288.84" width="2.8" height="2.8" fill="#ea5a19"/>
<path d="M444.17 274.6 V276.68 M442.87 274.6 H445.47 M442.87 276.68 H445.47" stroke="#ea5a19" stroke-width="0.8" fill="none"/>
<rect x="442.77" y="274.24" width="2.8" height="2.8" fill="#ea5a19"/>
<path d="M457.17 226.62 V230.79 M455.87 226.62 H458.47 M455.87 230.79 H458.47" stroke="#ea5a19" stroke-width="0.8" fill="none"/>
<rect x="455.77" y="227.3" width="2.8" height="2.8" fill="#ea5a19"/>
<path d="M470.17 212.02 V216.19 M468.87 212.02 H471.47 M468.87 216.19 H471.47" stroke="#ea5a19" stroke-width="0.8" fill="none"/>
<rect x="468.77" y="212.7" width="2.8" height="2.8" fill="#ea5a19"/>
<path d="M483.17 204.71 V208.89 M481.87 204.71 H484.47 M481.87 208.89 H484.47" stroke="#ea5a19" stroke-width="0.8" fill="none"/>
<rect x="481.77" y="205.4" width="2.8" height="2.8" fill="#ea5a19"/>
<path d="M496.17 203.67 V222.45 M494.87 203.67 H497.47 M494.87 222.45 H497.47" stroke="#ea5a19" stroke-width="0.8" fill="none"/>
<rect x="494.77" y="211.66" width="2.8" height="2.8" fill="#ea5a19"/>
<path d="M513.5 214.1 V218.27 M512.2 214.1 H514.8 M512.2 218.27 H514.8" stroke="#ea5a19" stroke-width="0.8" fill="none"/>
<rect x="512.1" y="214.79" width="2.8" height="2.8" fill="#ea5a19"/>
<path d="M526.5 208.26 V219.94 M525.2 208.26 H527.8 M525.2 219.94 H527.8" stroke="#ea5a19" stroke-width="0.8" fill="none"/>
<rect x="525.1" y="212.7" width="2.8" height="2.8" fill="#ea5a19"/>
<line x1="585.3" y1="196.9" x2="680.5" y2="196.9" stroke="#35b9bd" stroke-width="1.6"/>
<rect x="626.2" y="193.3" width="13.8" height="7.2" fill="#35b9bd"/>
<text x="691.6" y="199.5" font-size="8.05" text-anchor="start" font-weight="bold" fill="#1a1a1a" font-family='"Liberation Sans", sans-serif' >EcN2-gfp</text>
<line x1="585.3" y1="211.5" x2="680.5" y2="211.5" stroke="#6497c6" stroke-width="1.6"/>
<rect x="626.2" y="207.9" width="13.8" height="7.2" fill="#6497c6"/>
<text x="691.6" y="214.1" font-size="8.05" text-anchor="start" font-weight="bold" fill="#1a1a1a" font-family='"Liberation Sans", sans-serif' >EcN2T-gfp</text>
<line x1="585.3" y1="227" x2="680.5" y2="227" stroke="#7a4a4d" stroke-width="1.6"/>
<rect x="626.2" y="223.4" width="13.8" height="7.2" fill="#7a4a4d"/>
<text x="691.6" y="229.6" font-size="8.05" text-anchor="start" font-weight="bold" fill="#1a1a1a" font-family='"Liberation Sans", sans-serif' >EcN2B-gfp</text>
<line x1="585.3" y1="242.3" x2="680.5" y2="242.3" stroke="#8a862b" stroke-width="1.6"/>
<rect x="626.2" y="238.7" width="13.8" height="7.2" fill="#8a862b"/>
<text x="691.6" y="244.9" font-size="8.05" text-anchor="start" font-weight="bold" fill="#1a1a1a" font-family='"Liberation Sans", sans-serif' >EcN2C-gfp</text>
<line x1="585.3" y1="257.6" x2="680.5" y2="257.6" stroke="#ea5a19" stroke-width="1.6"/>
<rect x="626.2" y="254" width="13.8" height="7.2" fill="#ea5a19"/>
<text x="691.6" y="260.2" font-size="8.05" text-anchor="start" font-weight="bold" fill="#1a1a1a" font-family='"Liberation Sans", sans-serif' >EcN2D-gfp</text>
<line x1="585.3" y1="271.5" x2="680.5" y2="271.5" stroke="#f9c898" stroke-width="1.6"/>
<rect x="626.2" y="267.9" width="13.8" height="7.2" fill="#f9c898"/>
<text x="691.6" y="274.1" font-size="8.05" text-anchor="start" font-weight="bold" fill="#1a1a1a" font-family='"Liberation Sans", sans-serif' >EcN2H-gfp</text>
<line x1="585.3" y1="287" x2="680.5" y2="287" stroke="#9bcd98" stroke-width="1.6"/>
<rect x="626.2" y="283.4" width="13.8" height="7.2" fill="#9bcd98"/>
<text x="691.6" y="289.6" font-size="8.05" text-anchor="start" font-weight="bold" fill="#1a1a1a" font-family='"Liberation Sans", sans-serif' >EcN2Du-gfp</text>
</svg></body></html>
